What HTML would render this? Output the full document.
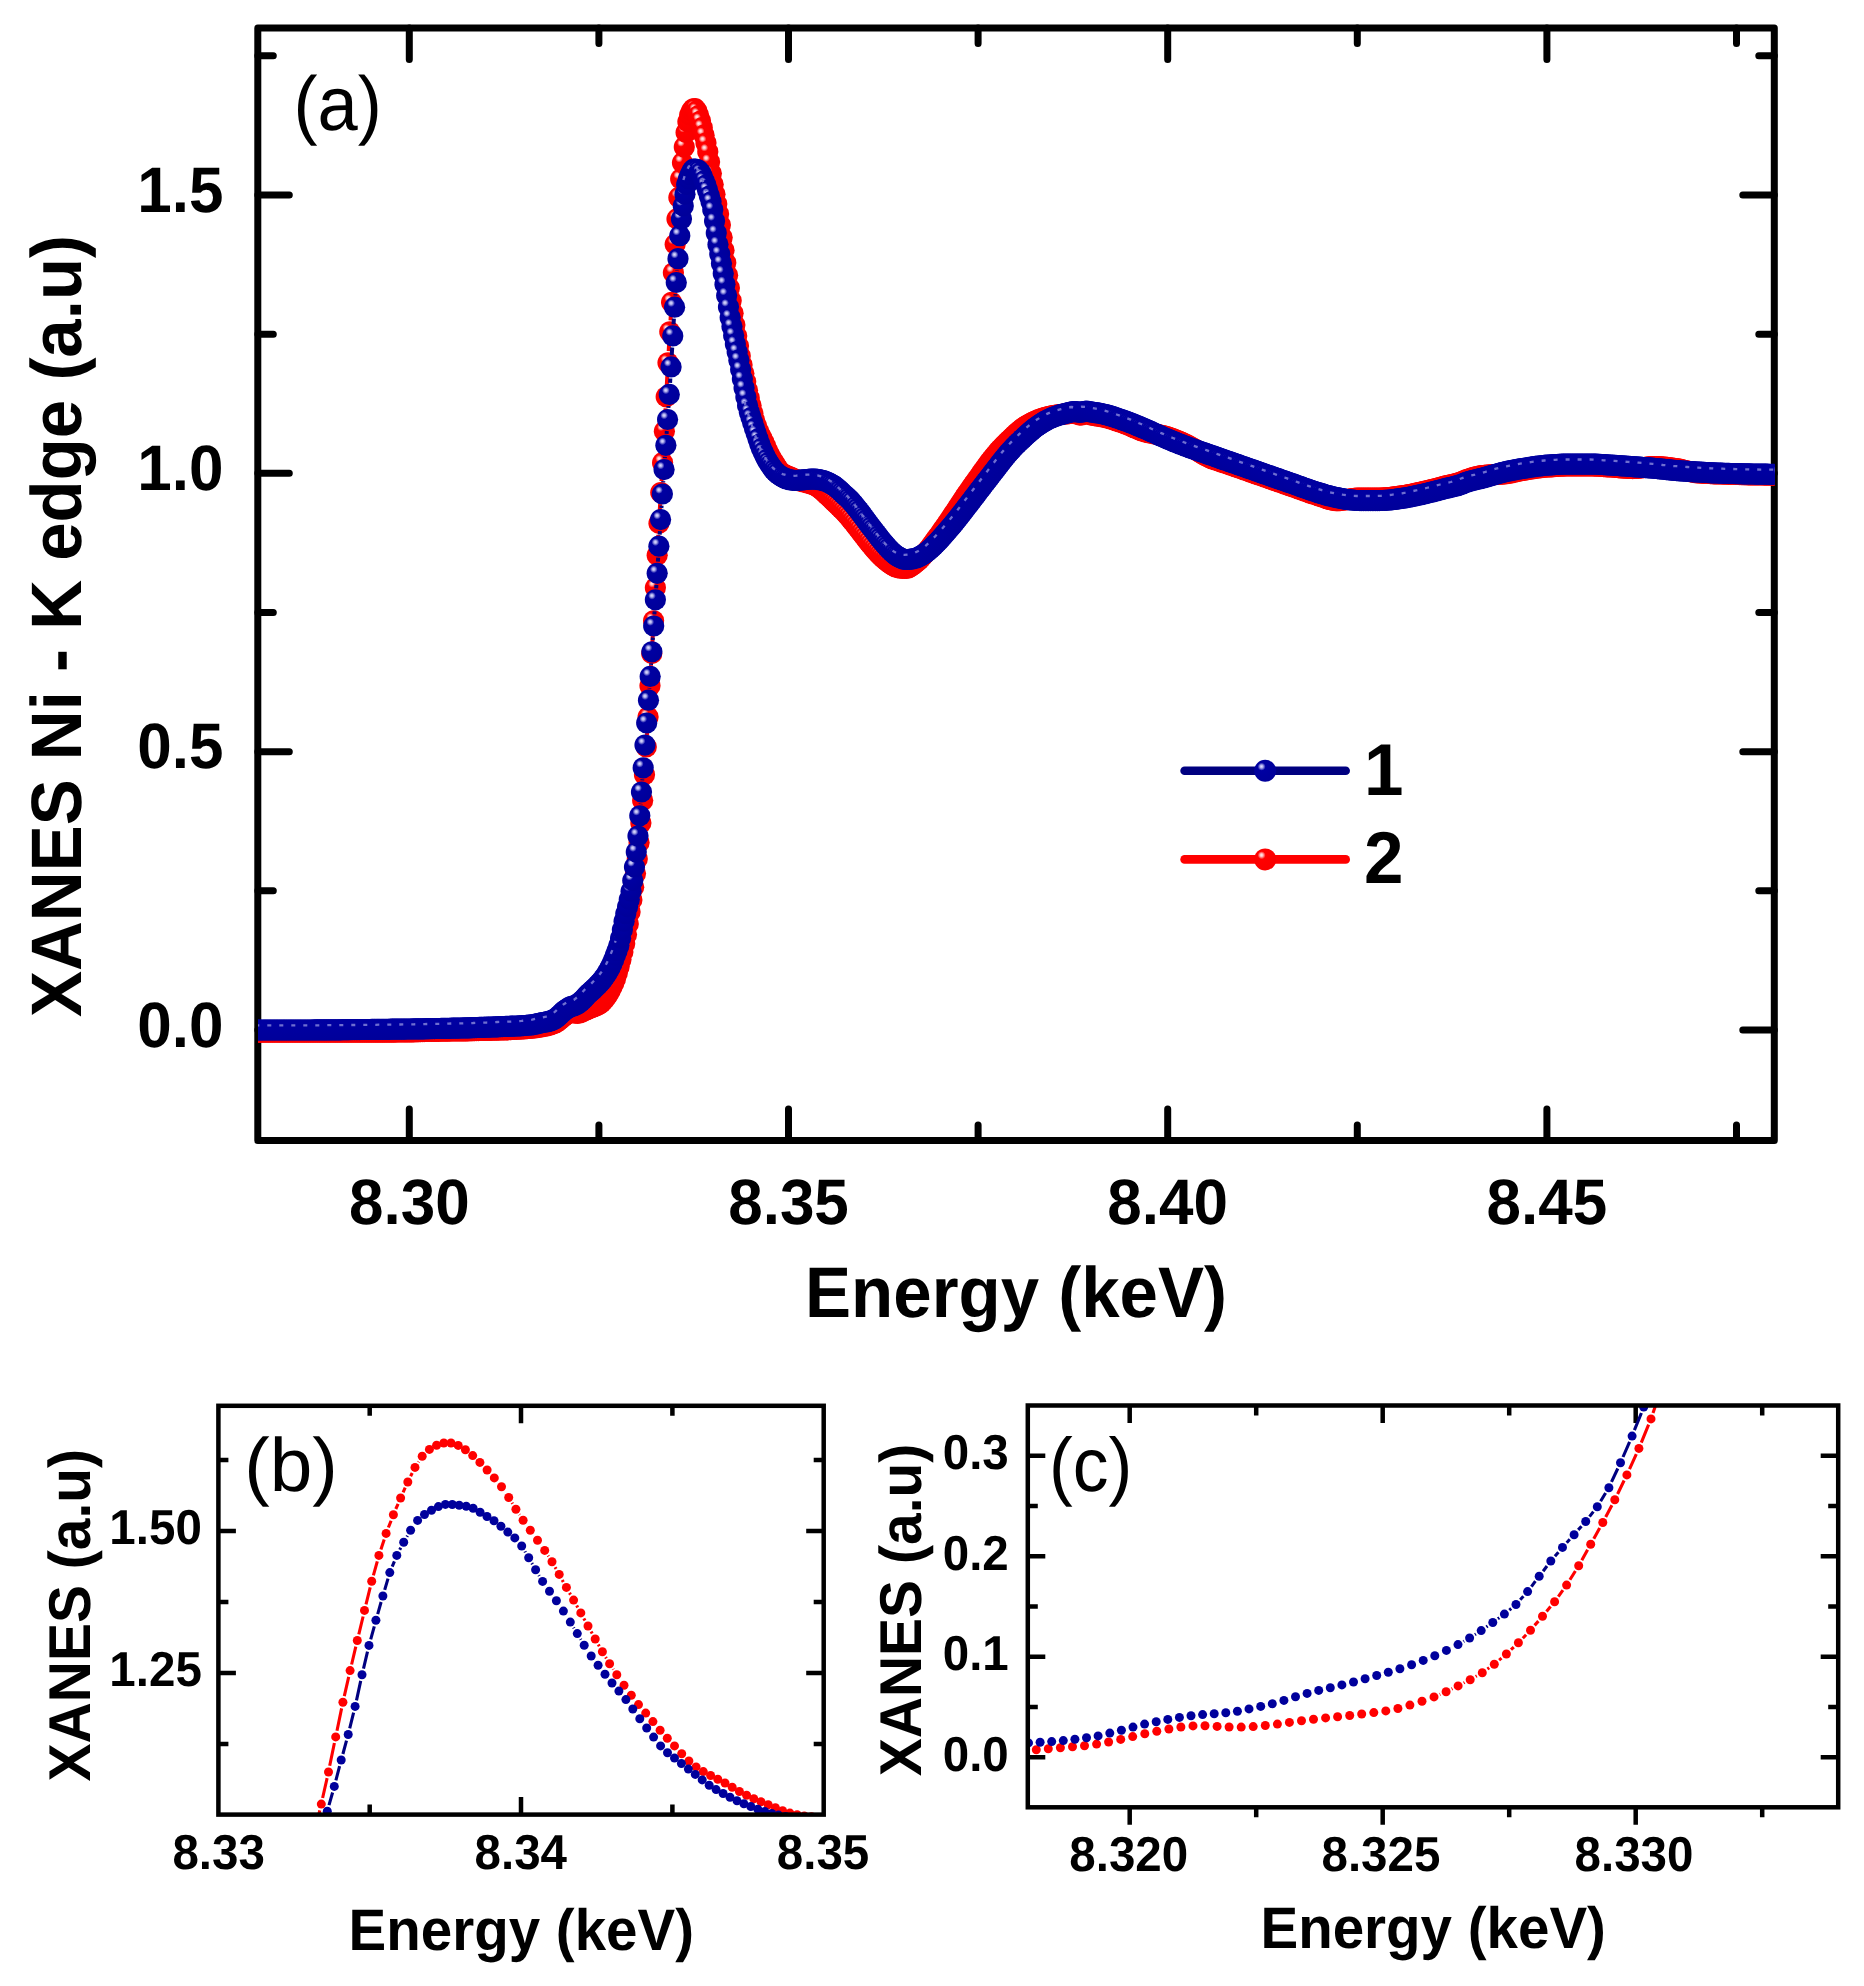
<!DOCTYPE html>
<html lang="en"><head><meta charset="utf-8"><title>XANES Ni K-edge</title>
<style>html,body{margin:0;padding:0;background:#fff}svg{display:block}text{font-family:"Liberation Sans",sans-serif;font-weight:bold;fill:#000;font-kerning:none;text-rendering:geometricPrecision}.pl{font-weight:normal}</style></head><body>
<svg width="1864" height="1986" viewBox="0 0 1864 1986">
<defs><radialGradient id="gb" cx="0.36" cy="0.34" r="0.62" fx="0.33" fy="0.30"><stop offset="0" stop-color="#e0e0ff"/><stop offset="0.11" stop-color="#b0b0ec"/><stop offset="0.29" stop-color="#0000a2"/><stop offset="1" stop-color="#00009a"/></radialGradient><radialGradient id="gr" cx="0.36" cy="0.34" r="0.62" fx="0.33" fy="0.30"><stop offset="0" stop-color="#fff0f0"/><stop offset="0.11" stop-color="#ffc0c0"/><stop offset="0.29" stop-color="#ff0000"/><stop offset="1" stop-color="#fa0000"/></radialGradient><clipPath id="ca"><rect x="258" y="28" width="1516.5" height="1112.5"/></clipPath><clipPath id="cb"><rect x="218.4" y="1405.8" width="605.3" height="408.8"/></clipPath><clipPath id="cc"><rect x="1027.8" y="1405.5" width="810.4" height="402"/></clipPath></defs>
<rect width="1864" height="1986" fill="#fff"/>
<rect x="257.8" y="28.0" width="1516.5" height="1112.5" stroke="#000" stroke-width="7" fill="none" stroke-linejoin="round"/>
<path d="M409.3 1140.5v-31.5M409.3 28.0v31.5M788.5 1140.5v-31.5M788.5 28.0v31.5M1167.7 1140.5v-31.5M1167.7 28.0v31.5M1546.9 1140.5v-31.5M1546.9 28.0v31.5M598.9 1140.5v-15.5M598.9 28.0v15.5M978.1 1140.5v-15.5M978.1 28.0v15.5M1357.3 1140.5v-15.5M1357.3 28.0v15.5M1736.5 1140.5v-15.5M1736.5 28.0v15.5M257.8 1030h31.5M1774.3 1030h-31.5M257.8 751.7h31.5M1774.3 751.7h-31.5M257.8 473.3h31.5M1774.3 473.3h-31.5M257.8 195h31.5M1774.3 195h-31.5M257.8 890.8h15.5M1774.3 890.8h-15.5M257.8 612.5h15.5M1774.3 612.5h-15.5M257.8 334.2h15.5M1774.3 334.2h-15.5M257.8 55.8h15.5M1774.3 55.8h-15.5" stroke="#000" stroke-width="7" fill="none" stroke-linecap="round"/>
<g clip-path="url(#ca)">
<path d="M643.5 788.8L643.7 786.4M645.3 763.2L645.6 758.4M647 735.3L647.4 728.7M648.8 705.5L649.3 697.4M650.6 674.3L651.1 665.2M652.4 642L652.9 632.4M654.2 609.2L654.7 599.4M656 576.3L656.5 566.8M657.8 543.6L658.3 534.9M659.7 511.8L660.1 504.2M661.5 481L661.9 474.3M663.3 451.1L663.7 442.8M665 419.6L665.6 408.3M666.8 385.2L667.4 374.4M668.7 351.2L669.1 343.4M670.5 320.3L670.9 313.9M672.3 290.8L672.7 284.4M674.2 261.2L674.5 255.9M676.1 232.7L676.2 230.5" stroke="#f00" stroke-width="4" fill="none"/><g fill="url(#gr)"><circle cx="239.9" cy="1032.2" r="10.6"/><circle cx="241.7" cy="1032.2" r="10.6"/><circle cx="243.5" cy="1032.2" r="10.6"/><circle cx="245.3" cy="1032.2" r="10.6"/><circle cx="247.1" cy="1032.2" r="10.6"/><circle cx="248.9" cy="1032.2" r="10.6"/><circle cx="250.7" cy="1032.2" r="10.6"/><circle cx="252.5" cy="1032.2" r="10.6"/><circle cx="254.3" cy="1032.2" r="10.6"/><circle cx="256.1" cy="1032.2" r="10.6"/><circle cx="257.9" cy="1032.2" r="10.6"/><circle cx="259.7" cy="1032.2" r="10.6"/><circle cx="261.6" cy="1032.2" r="10.6"/><circle cx="263.4" cy="1032.2" r="10.6"/><circle cx="265.2" cy="1032.2" r="10.6"/><circle cx="267" cy="1032.2" r="10.6"/><circle cx="268.8" cy="1032.2" r="10.6"/><circle cx="270.6" cy="1032.2" r="10.6"/><circle cx="272.4" cy="1032.2" r="10.6"/><circle cx="274.2" cy="1032.2" r="10.6"/><circle cx="276" cy="1032.2" r="10.6"/><circle cx="277.8" cy="1032.2" r="10.6"/><circle cx="279.6" cy="1032.2" r="10.6"/><circle cx="281.4" cy="1032.2" r="10.6"/><circle cx="283.2" cy="1032.2" r="10.6"/><circle cx="285" cy="1032.2" r="10.6"/><circle cx="286.8" cy="1032.2" r="10.6"/><circle cx="288.6" cy="1032.2" r="10.6"/><circle cx="290.5" cy="1032.2" r="10.6"/><circle cx="292.3" cy="1032.2" r="10.6"/><circle cx="294.1" cy="1032.2" r="10.6"/><circle cx="295.9" cy="1032.2" r="10.6"/><circle cx="297.7" cy="1032.2" r="10.6"/><circle cx="299.5" cy="1032.2" r="10.6"/><circle cx="301.3" cy="1032.2" r="10.6"/><circle cx="303.1" cy="1032.2" r="10.6"/><circle cx="304.9" cy="1032.2" r="10.6"/><circle cx="306.7" cy="1032.2" r="10.6"/><circle cx="308.5" cy="1032.2" r="10.6"/><circle cx="310.3" cy="1032.2" r="10.6"/><circle cx="312.1" cy="1032.2" r="10.6"/><circle cx="313.9" cy="1032.2" r="10.6"/><circle cx="315.7" cy="1032.2" r="10.6"/><circle cx="317.6" cy="1032.2" r="10.6"/><circle cx="319.4" cy="1032.2" r="10.6"/><circle cx="321.2" cy="1032.2" r="10.6"/><circle cx="323" cy="1032.2" r="10.6"/><circle cx="324.8" cy="1032.2" r="10.6"/><circle cx="326.6" cy="1032.2" r="10.6"/><circle cx="328.4" cy="1032.2" r="10.6"/><circle cx="330.2" cy="1032.2" r="10.6"/><circle cx="332" cy="1032.2" r="10.6"/><circle cx="333.8" cy="1032.2" r="10.6"/><circle cx="335.6" cy="1032.2" r="10.6"/><circle cx="337.4" cy="1032.2" r="10.6"/><circle cx="339.2" cy="1032.2" r="10.6"/><circle cx="341" cy="1032.2" r="10.6"/><circle cx="342.8" cy="1032.2" r="10.6"/><circle cx="344.7" cy="1032.2" r="10.6"/><circle cx="346.5" cy="1032.2" r="10.6"/><circle cx="348.3" cy="1032.2" r="10.6"/><circle cx="350.1" cy="1032.2" r="10.6"/><circle cx="351.9" cy="1032.2" r="10.6"/><circle cx="353.7" cy="1032.2" r="10.6"/><circle cx="355.5" cy="1032.2" r="10.6"/><circle cx="357.3" cy="1032.2" r="10.6"/><circle cx="359.1" cy="1032.2" r="10.6"/><circle cx="360.9" cy="1032.2" r="10.6"/><circle cx="362.7" cy="1032.2" r="10.6"/><circle cx="364.5" cy="1032.2" r="10.6"/><circle cx="366.3" cy="1032.2" r="10.6"/><circle cx="368.1" cy="1032.2" r="10.6"/><circle cx="369.9" cy="1032.2" r="10.6"/><circle cx="371.7" cy="1032.2" r="10.6"/><circle cx="373.6" cy="1032.2" r="10.6"/><circle cx="375.4" cy="1032.2" r="10.6"/><circle cx="377.2" cy="1032.2" r="10.6"/><circle cx="379" cy="1032.2" r="10.6"/><circle cx="380.8" cy="1032.2" r="10.6"/><circle cx="382.6" cy="1032.2" r="10.6"/><circle cx="384.4" cy="1032.2" r="10.6"/><circle cx="386.2" cy="1032.2" r="10.6"/><circle cx="388" cy="1032.1" r="10.6"/><circle cx="389.8" cy="1032.1" r="10.6"/><circle cx="391.6" cy="1032.1" r="10.6"/><circle cx="393.4" cy="1032.1" r="10.6"/><circle cx="395.2" cy="1032.1" r="10.6"/><circle cx="397" cy="1032" r="10.6"/><circle cx="398.8" cy="1032" r="10.6"/><circle cx="400.7" cy="1032" r="10.6"/><circle cx="402.5" cy="1031.9" r="10.6"/><circle cx="404.3" cy="1031.9" r="10.6"/><circle cx="406.1" cy="1031.9" r="10.6"/><circle cx="407.9" cy="1031.9" r="10.6"/><circle cx="409.7" cy="1031.8" r="10.6"/><circle cx="411.5" cy="1031.8" r="10.6"/><circle cx="413.3" cy="1031.8" r="10.6"/><circle cx="415.1" cy="1031.7" r="10.6"/><circle cx="416.9" cy="1031.7" r="10.6"/><circle cx="418.7" cy="1031.7" r="10.6"/><circle cx="420.5" cy="1031.6" r="10.6"/><circle cx="422.3" cy="1031.6" r="10.6"/><circle cx="424.1" cy="1031.6" r="10.6"/><circle cx="425.9" cy="1031.5" r="10.6"/><circle cx="427.8" cy="1031.5" r="10.6"/><circle cx="429.6" cy="1031.4" r="10.6"/><circle cx="431.4" cy="1031.4" r="10.6"/><circle cx="433.2" cy="1031.4" r="10.6"/><circle cx="435" cy="1031.3" r="10.6"/><circle cx="436.8" cy="1031.3" r="10.6"/><circle cx="438.6" cy="1031.3" r="10.6"/><circle cx="440.4" cy="1031.2" r="10.6"/><circle cx="442.2" cy="1031.2" r="10.6"/><circle cx="444" cy="1031.2" r="10.6"/><circle cx="445.8" cy="1031.1" r="10.6"/><circle cx="447.6" cy="1031.1" r="10.6"/><circle cx="449.4" cy="1031.1" r="10.6"/><circle cx="451.2" cy="1031" r="10.6"/><circle cx="453" cy="1031" r="10.6"/><circle cx="454.8" cy="1031" r="10.6"/><circle cx="456.7" cy="1031" r="10.6"/><circle cx="458.5" cy="1030.9" r="10.6"/><circle cx="460.3" cy="1030.9" r="10.6"/><circle cx="462.1" cy="1030.9" r="10.6"/><circle cx="463.9" cy="1030.8" r="10.6"/><circle cx="465.7" cy="1030.8" r="10.6"/><circle cx="467.5" cy="1030.8" r="10.6"/><circle cx="469.3" cy="1030.7" r="10.6"/><circle cx="471.1" cy="1030.7" r="10.6"/><circle cx="472.9" cy="1030.7" r="10.6"/><circle cx="474.7" cy="1030.6" r="10.6"/><circle cx="476.5" cy="1030.6" r="10.6"/><circle cx="478.3" cy="1030.6" r="10.6"/><circle cx="480.1" cy="1030.5" r="10.6"/><circle cx="481.9" cy="1030.5" r="10.6"/><circle cx="483.8" cy="1030.4" r="10.6"/><circle cx="485.6" cy="1030.4" r="10.6"/><circle cx="487.4" cy="1030.4" r="10.6"/><circle cx="489.2" cy="1030.3" r="10.6"/><circle cx="491" cy="1030.3" r="10.6"/><circle cx="492.8" cy="1030.2" r="10.6"/><circle cx="494.6" cy="1030.2" r="10.6"/><circle cx="496.4" cy="1030.1" r="10.6"/><circle cx="498.2" cy="1030.1" r="10.6"/><circle cx="500" cy="1030" r="10.6"/><circle cx="501.8" cy="1029.9" r="10.6"/><circle cx="503.6" cy="1029.9" r="10.6"/><circle cx="505.4" cy="1029.8" r="10.6"/><circle cx="507.2" cy="1029.8" r="10.6"/><circle cx="509" cy="1029.7" r="10.6"/><circle cx="510.8" cy="1029.6" r="10.6"/><circle cx="512.7" cy="1029.5" r="10.6"/><circle cx="514.5" cy="1029.4" r="10.6"/><circle cx="516.3" cy="1029.3" r="10.6"/><circle cx="518.1" cy="1029.2" r="10.6"/><circle cx="519.9" cy="1029.1" r="10.6"/><circle cx="521.7" cy="1029" r="10.6"/><circle cx="523.5" cy="1028.9" r="10.6"/><circle cx="525.3" cy="1028.7" r="10.6"/><circle cx="527.1" cy="1028.6" r="10.6"/><circle cx="528.9" cy="1028.5" r="10.6"/><circle cx="530.7" cy="1028.3" r="10.6"/><circle cx="532.5" cy="1028.1" r="10.6"/><circle cx="534.3" cy="1027.9" r="10.6"/><circle cx="536.1" cy="1027.7" r="10.6"/><circle cx="537.9" cy="1027.4" r="10.6"/><circle cx="539.8" cy="1027.1" r="10.6"/><circle cx="541.6" cy="1026.8" r="10.6"/><circle cx="543.4" cy="1026.5" r="10.6"/><circle cx="545.2" cy="1026.1" r="10.6"/><circle cx="547" cy="1025.8" r="10.6"/><circle cx="548.8" cy="1025.3" r="10.6"/><circle cx="550.6" cy="1024.8" r="10.6"/><circle cx="552.4" cy="1024.2" r="10.6"/><circle cx="554.2" cy="1023.6" r="10.6"/><circle cx="556" cy="1022.7" r="10.6"/><circle cx="557.8" cy="1021.5" r="10.6"/><circle cx="559.6" cy="1020.1" r="10.6"/><circle cx="561.4" cy="1018.5" r="10.6"/><circle cx="563.2" cy="1017" r="10.6"/><circle cx="565" cy="1015.6" r="10.6"/><circle cx="566.9" cy="1014.3" r="10.6"/><circle cx="568.7" cy="1013.2" r="10.6"/><circle cx="570.5" cy="1012.6" r="10.6"/><circle cx="572.3" cy="1012.5" r="10.6"/><circle cx="574.1" cy="1012.9" r="10.6"/><circle cx="575.9" cy="1013.2" r="10.6"/><circle cx="577.7" cy="1013.3" r="10.6"/><circle cx="579.5" cy="1013" r="10.6"/><circle cx="581.3" cy="1012.4" r="10.6"/><circle cx="583.1" cy="1011.6" r="10.6"/><circle cx="584.9" cy="1010.6" r="10.6"/><circle cx="586.7" cy="1009.7" r="10.6"/><circle cx="588.5" cy="1008.9" r="10.6"/><circle cx="590.3" cy="1008.2" r="10.6"/><circle cx="592.1" cy="1007.5" r="10.6"/><circle cx="593.9" cy="1006.8" r="10.6"/><circle cx="595.8" cy="1006" r="10.6"/><circle cx="597.6" cy="1005.3" r="10.6"/><circle cx="599.4" cy="1004.3" r="10.6"/><circle cx="601.2" cy="1003" r="10.6"/><circle cx="603" cy="1001.1" r="10.6"/><circle cx="604.8" cy="999" r="10.6"/><circle cx="606.6" cy="996.6" r="10.6"/><circle cx="608.4" cy="993.7" r="10.6"/><circle cx="610.2" cy="990.4" r="10.6"/><circle cx="612" cy="987" r="10.6"/><circle cx="613.8" cy="983.2" r="10.6"/><circle cx="615.6" cy="978.4" r="10.6"/><circle cx="617.4" cy="972.8" r="10.6"/><circle cx="619.2" cy="966.5" r="10.6"/><circle cx="621" cy="959.6" r="10.6"/><circle cx="622.9" cy="951.9" r="10.6"/><circle cx="624.7" cy="943.8" r="10.6"/><circle cx="626.5" cy="934.6" r="10.6"/><circle cx="628.3" cy="923.9" r="10.6"/><circle cx="630.1" cy="912" r="10.6"/><circle cx="631.9" cy="900" r="10.6"/><circle cx="633.7" cy="887.3" r="10.6"/><circle cx="635.5" cy="873.6" r="10.6"/><circle cx="637.3" cy="858.9" r="10.6"/><circle cx="639.1" cy="842.5" r="10.6"/><circle cx="640.9" cy="823.1" r="10.6"/><circle cx="642.7" cy="800.4" r="10.6"/><circle cx="644.5" cy="774.8" r="10.6"/><circle cx="646.3" cy="746.9" r="10.6"/><circle cx="648.1" cy="717.1" r="10.6"/><circle cx="650" cy="685.8" r="10.6"/><circle cx="651.8" cy="653.6" r="10.6"/><circle cx="653.6" cy="620.8" r="10.6"/><circle cx="655.4" cy="587.8" r="10.6"/><circle cx="657.2" cy="555.2" r="10.6"/><circle cx="659" cy="523.3" r="10.6"/><circle cx="660.8" cy="492.6" r="10.6"/><circle cx="662.6" cy="462.7" r="10.6"/><circle cx="664.4" cy="431.2" r="10.6"/><circle cx="666.2" cy="396.8" r="10.6"/><circle cx="668" cy="362.8" r="10.6"/><circle cx="669.8" cy="331.8" r="10.6"/><circle cx="671.6" cy="302.3" r="10.6"/><circle cx="673.4" cy="272.8" r="10.6"/><circle cx="675.2" cy="244.3" r="10.6"/><circle cx="677" cy="218.9" r="10.6"/><circle cx="678.9" cy="197.4" r="10.6"/><circle cx="680.7" cy="179.1" r="10.6"/><circle cx="682.5" cy="162.7" r="10.6"/><circle cx="684.3" cy="146.9" r="10.6"/><circle cx="686.1" cy="132.6" r="10.6"/><circle cx="687.9" cy="121.8" r="10.6"/><circle cx="689.7" cy="115" r="10.6"/><circle cx="691.5" cy="110.9" r="10.6"/><circle cx="693.3" cy="108.8" r="10.6"/><circle cx="695.1" cy="108.7" r="10.6"/><circle cx="696.9" cy="111.1" r="10.6"/><circle cx="698.7" cy="115.5" r="10.6"/><circle cx="700.5" cy="121.1" r="10.6"/><circle cx="702.3" cy="127.7" r="10.6"/><circle cx="704.1" cy="135.2" r="10.6"/><circle cx="706" cy="143" r="10.6"/><circle cx="707.8" cy="151.7" r="10.6"/><circle cx="709.6" cy="162.1" r="10.6"/><circle cx="711.4" cy="173.6" r="10.6"/><circle cx="713.2" cy="184.4" r="10.6"/><circle cx="715" cy="194.3" r="10.6"/><circle cx="716.8" cy="204" r="10.6"/><circle cx="718.6" cy="214" r="10.6"/><circle cx="720.4" cy="225.1" r="10.6"/><circle cx="722.2" cy="237.5" r="10.6"/><circle cx="724" cy="250.2" r="10.6"/><circle cx="725.8" cy="262.7" r="10.6"/><circle cx="727.6" cy="275.2" r="10.6"/><circle cx="729.4" cy="288.1" r="10.6"/><circle cx="731.2" cy="300.8" r="10.6"/><circle cx="733.1" cy="313.3" r="10.6"/><circle cx="734.9" cy="325.1" r="10.6"/><circle cx="736.7" cy="335.9" r="10.6"/><circle cx="738.5" cy="346.1" r="10.6"/><circle cx="740.3" cy="356" r="10.6"/><circle cx="742.1" cy="365.1" r="10.6"/><circle cx="743.9" cy="373.5" r="10.6"/><circle cx="745.7" cy="381.8" r="10.6"/><circle cx="747.5" cy="390.2" r="10.6"/><circle cx="749.3" cy="398.1" r="10.6"/><circle cx="751.1" cy="405.6" r="10.6"/><circle cx="752.9" cy="413.2" r="10.6"/><circle cx="754.7" cy="420.4" r="10.6"/><circle cx="756.5" cy="426.1" r="10.6"/><circle cx="758.3" cy="430.8" r="10.6"/><circle cx="760.1" cy="434.7" r="10.6"/><circle cx="762" cy="438.2" r="10.6"/><circle cx="763.8" cy="442" r="10.6"/><circle cx="765.6" cy="446.1" r="10.6"/><circle cx="767.4" cy="450.3" r="10.6"/><circle cx="769.2" cy="454" r="10.6"/><circle cx="771" cy="457.4" r="10.6"/><circle cx="772.8" cy="460.4" r="10.6"/><circle cx="774.6" cy="463.3" r="10.6"/><circle cx="776.4" cy="466.3" r="10.6"/><circle cx="778.2" cy="469.1" r="10.6"/><circle cx="780" cy="471.5" r="10.6"/><circle cx="781.8" cy="473.2" r="10.6"/><circle cx="783.6" cy="474.2" r="10.6"/><circle cx="785.4" cy="475.1" r="10.6"/><circle cx="787.2" cy="475.8" r="10.6"/><circle cx="789.1" cy="476.6" r="10.6"/><circle cx="790.9" cy="477.4" r="10.6"/><circle cx="792.7" cy="478.2" r="10.6"/><circle cx="794.5" cy="479" r="10.6"/><circle cx="796.3" cy="479.7" r="10.6"/><circle cx="798.1" cy="480.3" r="10.6"/><circle cx="799.9" cy="480.9" r="10.6"/><circle cx="801.7" cy="481.4" r="10.6"/><circle cx="803.5" cy="481.9" r="10.6"/><circle cx="805.3" cy="482.3" r="10.6"/><circle cx="807.1" cy="482.8" r="10.6"/><circle cx="808.9" cy="483.3" r="10.6"/><circle cx="810.7" cy="483.8" r="10.6"/><circle cx="812.5" cy="484.4" r="10.6"/><circle cx="814.3" cy="485.2" r="10.6"/><circle cx="816.1" cy="486.1" r="10.6"/><circle cx="818" cy="487.3" r="10.6"/><circle cx="819.8" cy="488.6" r="10.6"/><circle cx="821.6" cy="490" r="10.6"/><circle cx="823.4" cy="491.5" r="10.6"/><circle cx="825.2" cy="493.2" r="10.6"/><circle cx="827" cy="494.9" r="10.6"/><circle cx="828.8" cy="496.6" r="10.6"/><circle cx="830.6" cy="498.3" r="10.6"/><circle cx="832.4" cy="500.1" r="10.6"/><circle cx="834.2" cy="501.8" r="10.6"/><circle cx="836" cy="503.5" r="10.6"/><circle cx="837.8" cy="505.2" r="10.6"/><circle cx="839.6" cy="506.9" r="10.6"/><circle cx="841.4" cy="508.7" r="10.6"/><circle cx="843.2" cy="510.6" r="10.6"/><circle cx="845.1" cy="512.5" r="10.6"/><circle cx="846.9" cy="514.5" r="10.6"/><circle cx="848.7" cy="516.6" r="10.6"/><circle cx="850.5" cy="518.7" r="10.6"/><circle cx="852.3" cy="520.9" r="10.6"/><circle cx="854.1" cy="523.1" r="10.6"/><circle cx="855.9" cy="525.4" r="10.6"/><circle cx="857.7" cy="527.7" r="10.6"/><circle cx="859.5" cy="530" r="10.6"/><circle cx="861.3" cy="532.4" r="10.6"/><circle cx="863.1" cy="534.7" r="10.6"/><circle cx="864.9" cy="537.1" r="10.6"/><circle cx="866.7" cy="539.4" r="10.6"/><circle cx="868.5" cy="541.7" r="10.6"/><circle cx="870.3" cy="544" r="10.6"/><circle cx="872.2" cy="546.2" r="10.6"/><circle cx="874" cy="548.4" r="10.6"/><circle cx="875.8" cy="550.5" r="10.6"/><circle cx="877.6" cy="552.5" r="10.6"/><circle cx="879.4" cy="554.4" r="10.6"/><circle cx="881.2" cy="556.2" r="10.6"/><circle cx="883" cy="557.9" r="10.6"/><circle cx="884.8" cy="559.5" r="10.6"/><circle cx="886.6" cy="561.1" r="10.6"/><circle cx="888.4" cy="562.4" r="10.6"/><circle cx="890.2" cy="563.8" r="10.6"/><circle cx="892" cy="565" r="10.6"/><circle cx="893.8" cy="566.1" r="10.6"/><circle cx="895.6" cy="567" r="10.6"/><circle cx="897.4" cy="567.6" r="10.6"/><circle cx="899.2" cy="568" r="10.6"/><circle cx="901.1" cy="568.2" r="10.6"/><circle cx="902.9" cy="568.4" r="10.6"/><circle cx="904.7" cy="568.5" r="10.6"/><circle cx="906.5" cy="568.4" r="10.6"/><circle cx="908.3" cy="567.9" r="10.6"/><circle cx="910.1" cy="567" r="10.6"/><circle cx="911.9" cy="565.8" r="10.6"/><circle cx="913.7" cy="564.5" r="10.6"/><circle cx="915.5" cy="563.1" r="10.6"/><circle cx="917.3" cy="561.6" r="10.6"/><circle cx="919.1" cy="559.9" r="10.6"/><circle cx="920.9" cy="558" r="10.6"/><circle cx="922.7" cy="556" r="10.6"/><circle cx="924.5" cy="554" r="10.6"/><circle cx="926.3" cy="551.9" r="10.6"/><circle cx="928.2" cy="549.7" r="10.6"/><circle cx="930" cy="547.4" r="10.6"/><circle cx="931.8" cy="545" r="10.6"/><circle cx="933.6" cy="542.5" r="10.6"/><circle cx="935.4" cy="540.1" r="10.6"/><circle cx="937.2" cy="537.6" r="10.6"/><circle cx="939" cy="535.2" r="10.6"/><circle cx="940.8" cy="532.7" r="10.6"/><circle cx="942.6" cy="530.1" r="10.6"/><circle cx="944.4" cy="527.6" r="10.6"/><circle cx="946.2" cy="525" r="10.6"/><circle cx="948" cy="522.3" r="10.6"/><circle cx="949.8" cy="519.7" r="10.6"/><circle cx="951.6" cy="516.9" r="10.6"/><circle cx="953.4" cy="514.2" r="10.6"/><circle cx="955.3" cy="511.5" r="10.6"/><circle cx="957.1" cy="508.8" r="10.6"/><circle cx="958.9" cy="506" r="10.6"/><circle cx="960.7" cy="503.3" r="10.6"/><circle cx="962.5" cy="500.6" r="10.6"/><circle cx="964.3" cy="497.8" r="10.6"/><circle cx="966.1" cy="495.1" r="10.6"/><circle cx="967.9" cy="492.5" r="10.6"/><circle cx="969.7" cy="489.9" r="10.6"/><circle cx="971.5" cy="487.3" r="10.6"/><circle cx="973.3" cy="484.8" r="10.6"/><circle cx="975.1" cy="482.3" r="10.6"/><circle cx="976.9" cy="479.8" r="10.6"/><circle cx="978.7" cy="477.3" r="10.6"/><circle cx="980.5" cy="474.7" r="10.6"/><circle cx="982.3" cy="472.1" r="10.6"/><circle cx="984.2" cy="469.6" r="10.6"/><circle cx="986" cy="467" r="10.6"/><circle cx="987.8" cy="464.5" r="10.6"/><circle cx="989.6" cy="462.1" r="10.6"/><circle cx="991.4" cy="459.8" r="10.6"/><circle cx="993.2" cy="457.5" r="10.6"/><circle cx="995" cy="455.3" r="10.6"/><circle cx="996.8" cy="453.2" r="10.6"/><circle cx="998.6" cy="451.1" r="10.6"/><circle cx="1000.4" cy="449.1" r="10.6"/><circle cx="1002.2" cy="447.2" r="10.6"/><circle cx="1004" cy="445.3" r="10.6"/><circle cx="1005.8" cy="443.5" r="10.6"/><circle cx="1007.6" cy="441.7" r="10.6"/><circle cx="1009.4" cy="440" r="10.6"/><circle cx="1011.3" cy="438.2" r="10.6"/><circle cx="1013.1" cy="436.5" r="10.6"/><circle cx="1014.9" cy="434.8" r="10.6"/><circle cx="1016.7" cy="433.1" r="10.6"/><circle cx="1018.5" cy="431.5" r="10.6"/><circle cx="1020.3" cy="430" r="10.6"/><circle cx="1022.1" cy="428.6" r="10.6"/><circle cx="1023.9" cy="427.3" r="10.6"/><circle cx="1025.7" cy="426.1" r="10.6"/><circle cx="1027.5" cy="425" r="10.6"/><circle cx="1029.3" cy="424" r="10.6"/><circle cx="1031.1" cy="423" r="10.6"/><circle cx="1032.9" cy="422.1" r="10.6"/><circle cx="1034.7" cy="421.3" r="10.6"/><circle cx="1036.5" cy="420.5" r="10.6"/><circle cx="1038.4" cy="419.7" r="10.6"/><circle cx="1040.2" cy="419" r="10.6"/><circle cx="1042" cy="418.4" r="10.6"/><circle cx="1043.8" cy="417.8" r="10.6"/><circle cx="1045.6" cy="417.3" r="10.6"/><circle cx="1047.4" cy="416.8" r="10.6"/><circle cx="1049.2" cy="416.4" r="10.6"/><circle cx="1051" cy="416" r="10.6"/><circle cx="1052.8" cy="415.6" r="10.6"/><circle cx="1054.6" cy="415.3" r="10.6"/><circle cx="1056.4" cy="415" r="10.6"/><circle cx="1058.2" cy="414.8" r="10.6"/><circle cx="1060" cy="414.6" r="10.6"/><circle cx="1061.8" cy="414.4" r="10.6"/><circle cx="1063.6" cy="414.2" r="10.6"/><circle cx="1065.4" cy="414" r="10.6"/><circle cx="1067.3" cy="413.8" r="10.6"/><circle cx="1069.1" cy="413.6" r="10.6"/><circle cx="1070.9" cy="413.5" r="10.6"/><circle cx="1072.7" cy="413.3" r="10.6"/><circle cx="1074.5" cy="413.4" r="10.6"/><circle cx="1076.3" cy="413.8" r="10.6"/><circle cx="1078.1" cy="414.5" r="10.6"/><circle cx="1079.9" cy="415.1" r="10.6"/><circle cx="1081.7" cy="414.9" r="10.6"/><circle cx="1083.5" cy="414.2" r="10.6"/><circle cx="1085.3" cy="413.7" r="10.6"/><circle cx="1087.1" cy="413.7" r="10.6"/><circle cx="1088.9" cy="414.2" r="10.6"/><circle cx="1090.7" cy="414.8" r="10.6"/><circle cx="1092.5" cy="415.3" r="10.6"/><circle cx="1094.4" cy="415.6" r="10.6"/><circle cx="1096.2" cy="415.8" r="10.6"/><circle cx="1098" cy="416.1" r="10.6"/><circle cx="1099.8" cy="416.4" r="10.6"/><circle cx="1101.6" cy="416.7" r="10.6"/><circle cx="1103.4" cy="417.1" r="10.6"/><circle cx="1105.2" cy="417.5" r="10.6"/><circle cx="1107" cy="418" r="10.6"/><circle cx="1108.8" cy="418.5" r="10.6"/><circle cx="1110.6" cy="419" r="10.6"/><circle cx="1112.4" cy="419.6" r="10.6"/><circle cx="1114.2" cy="420.2" r="10.6"/><circle cx="1116" cy="420.7" r="10.6"/><circle cx="1117.8" cy="421.4" r="10.6"/><circle cx="1119.6" cy="422" r="10.6"/><circle cx="1121.4" cy="422.6" r="10.6"/><circle cx="1123.3" cy="423.2" r="10.6"/><circle cx="1125.1" cy="423.9" r="10.6"/><circle cx="1126.9" cy="424.6" r="10.6"/><circle cx="1128.7" cy="425.4" r="10.6"/><circle cx="1130.5" cy="426.1" r="10.6"/><circle cx="1132.3" cy="426.9" r="10.6"/><circle cx="1134.1" cy="427.7" r="10.6"/><circle cx="1135.9" cy="428.5" r="10.6"/><circle cx="1137.7" cy="429.3" r="10.6"/><circle cx="1139.5" cy="430" r="10.6"/><circle cx="1141.3" cy="430.7" r="10.6"/><circle cx="1143.1" cy="431.3" r="10.6"/><circle cx="1144.9" cy="431.8" r="10.6"/><circle cx="1146.7" cy="432.3" r="10.6"/><circle cx="1148.5" cy="432.7" r="10.6"/><circle cx="1150.4" cy="433.1" r="10.6"/><circle cx="1152.2" cy="433.5" r="10.6"/><circle cx="1154" cy="433.8" r="10.6"/><circle cx="1155.8" cy="434.2" r="10.6"/><circle cx="1157.6" cy="434.5" r="10.6"/><circle cx="1159.4" cy="434.9" r="10.6"/><circle cx="1161.2" cy="435.3" r="10.6"/><circle cx="1163" cy="435.7" r="10.6"/><circle cx="1164.8" cy="436.1" r="10.6"/><circle cx="1166.6" cy="436.6" r="10.6"/><circle cx="1168.4" cy="437.2" r="10.6"/><circle cx="1170.2" cy="437.8" r="10.6"/><circle cx="1172" cy="438.4" r="10.6"/><circle cx="1173.8" cy="439.1" r="10.6"/><circle cx="1175.6" cy="439.8" r="10.6"/><circle cx="1177.5" cy="440.6" r="10.6"/><circle cx="1179.3" cy="441.3" r="10.6"/><circle cx="1181.1" cy="442.1" r="10.6"/><circle cx="1182.9" cy="442.9" r="10.6"/><circle cx="1184.7" cy="443.8" r="10.6"/><circle cx="1186.5" cy="444.6" r="10.6"/><circle cx="1188.3" cy="445.5" r="10.6"/><circle cx="1190.1" cy="446.5" r="10.6"/><circle cx="1191.9" cy="447.5" r="10.6"/><circle cx="1193.7" cy="448.6" r="10.6"/><circle cx="1195.5" cy="449.7" r="10.6"/><circle cx="1197.3" cy="450.8" r="10.6"/><circle cx="1199.1" cy="452" r="10.6"/><circle cx="1200.9" cy="453.1" r="10.6"/><circle cx="1202.7" cy="454.2" r="10.6"/><circle cx="1204.5" cy="455.3" r="10.6"/><circle cx="1206.4" cy="456.2" r="10.6"/><circle cx="1208.2" cy="457.1" r="10.6"/><circle cx="1210" cy="457.9" r="10.6"/><circle cx="1211.8" cy="458.7" r="10.6"/><circle cx="1213.6" cy="459.4" r="10.6"/><circle cx="1215.4" cy="460" r="10.6"/><circle cx="1217.2" cy="460.6" r="10.6"/><circle cx="1219" cy="461.2" r="10.6"/><circle cx="1220.8" cy="461.8" r="10.6"/><circle cx="1222.6" cy="462.4" r="10.6"/><circle cx="1224.4" cy="463" r="10.6"/><circle cx="1226.2" cy="463.6" r="10.6"/><circle cx="1228" cy="464.2" r="10.6"/><circle cx="1229.8" cy="464.8" r="10.6"/><circle cx="1231.6" cy="465.4" r="10.6"/><circle cx="1233.5" cy="466.1" r="10.6"/><circle cx="1235.3" cy="466.7" r="10.6"/><circle cx="1237.1" cy="467.3" r="10.6"/><circle cx="1238.9" cy="468" r="10.6"/><circle cx="1240.7" cy="468.6" r="10.6"/><circle cx="1242.5" cy="469.2" r="10.6"/><circle cx="1244.3" cy="469.9" r="10.6"/><circle cx="1246.1" cy="470.5" r="10.6"/><circle cx="1247.9" cy="471.1" r="10.6"/><circle cx="1249.7" cy="471.8" r="10.6"/><circle cx="1251.5" cy="472.4" r="10.6"/><circle cx="1253.3" cy="473" r="10.6"/><circle cx="1255.1" cy="473.7" r="10.6"/><circle cx="1256.9" cy="474.3" r="10.6"/><circle cx="1258.7" cy="474.9" r="10.6"/><circle cx="1260.6" cy="475.6" r="10.6"/><circle cx="1262.4" cy="476.2" r="10.6"/><circle cx="1264.2" cy="476.8" r="10.6"/><circle cx="1266" cy="477.5" r="10.6"/><circle cx="1267.8" cy="478.1" r="10.6"/><circle cx="1269.6" cy="478.7" r="10.6"/><circle cx="1271.4" cy="479.3" r="10.6"/><circle cx="1273.2" cy="480" r="10.6"/><circle cx="1275" cy="480.6" r="10.6"/><circle cx="1276.8" cy="481.2" r="10.6"/><circle cx="1278.6" cy="481.9" r="10.6"/><circle cx="1280.4" cy="482.5" r="10.6"/><circle cx="1282.2" cy="483.1" r="10.6"/><circle cx="1284" cy="483.8" r="10.6"/><circle cx="1285.8" cy="484.4" r="10.6"/><circle cx="1287.6" cy="485" r="10.6"/><circle cx="1289.5" cy="485.7" r="10.6"/><circle cx="1291.3" cy="486.3" r="10.6"/><circle cx="1293.1" cy="486.9" r="10.6"/><circle cx="1294.9" cy="487.6" r="10.6"/><circle cx="1296.7" cy="488.2" r="10.6"/><circle cx="1298.5" cy="488.9" r="10.6"/><circle cx="1300.3" cy="489.5" r="10.6"/><circle cx="1302.1" cy="490.2" r="10.6"/><circle cx="1303.9" cy="490.8" r="10.6"/><circle cx="1305.7" cy="491.5" r="10.6"/><circle cx="1307.5" cy="492.1" r="10.6"/><circle cx="1309.3" cy="492.8" r="10.6"/><circle cx="1311.1" cy="493.4" r="10.6"/><circle cx="1312.9" cy="494" r="10.6"/><circle cx="1314.7" cy="494.6" r="10.6"/><circle cx="1316.6" cy="495.1" r="10.6"/><circle cx="1318.4" cy="495.7" r="10.6"/><circle cx="1320.2" cy="496.4" r="10.6"/><circle cx="1322" cy="497" r="10.6"/><circle cx="1323.8" cy="497.6" r="10.6"/><circle cx="1325.6" cy="498.3" r="10.6"/><circle cx="1327.4" cy="498.9" r="10.6"/><circle cx="1329.2" cy="499.4" r="10.6"/><circle cx="1331" cy="499.9" r="10.6"/><circle cx="1332.8" cy="500.3" r="10.6"/><circle cx="1334.6" cy="500.5" r="10.6"/><circle cx="1336.4" cy="500.7" r="10.6"/><circle cx="1338.2" cy="500.7" r="10.6"/><circle cx="1340" cy="500.6" r="10.6"/><circle cx="1341.8" cy="500.4" r="10.6"/><circle cx="1343.7" cy="500.2" r="10.6"/><circle cx="1345.5" cy="499.9" r="10.6"/><circle cx="1347.3" cy="499.6" r="10.6"/><circle cx="1349.1" cy="499.2" r="10.6"/><circle cx="1350.9" cy="498.9" r="10.6"/><circle cx="1352.7" cy="498.6" r="10.6"/><circle cx="1354.5" cy="498.3" r="10.6"/><circle cx="1356.3" cy="498.1" r="10.6"/><circle cx="1358.1" cy="498" r="10.6"/><circle cx="1359.9" cy="498" r="10.6"/><circle cx="1361.7" cy="498" r="10.6"/><circle cx="1363.5" cy="498" r="10.6"/><circle cx="1365.3" cy="498" r="10.6"/><circle cx="1367.1" cy="498" r="10.6"/><circle cx="1368.9" cy="498" r="10.6"/><circle cx="1370.7" cy="498" r="10.6"/><circle cx="1372.6" cy="498" r="10.6"/><circle cx="1374.4" cy="498" r="10.6"/><circle cx="1376.2" cy="498" r="10.6"/><circle cx="1378" cy="498" r="10.6"/><circle cx="1379.8" cy="498" r="10.6"/><circle cx="1381.6" cy="498" r="10.6"/><circle cx="1383.4" cy="497.9" r="10.6"/><circle cx="1385.2" cy="497.8" r="10.6"/><circle cx="1387" cy="497.7" r="10.6"/><circle cx="1388.8" cy="497.5" r="10.6"/><circle cx="1390.6" cy="497.3" r="10.6"/><circle cx="1392.4" cy="497.1" r="10.6"/><circle cx="1394.2" cy="496.9" r="10.6"/><circle cx="1396" cy="496.6" r="10.6"/><circle cx="1397.8" cy="496.4" r="10.6"/><circle cx="1399.7" cy="496.1" r="10.6"/><circle cx="1401.5" cy="495.9" r="10.6"/><circle cx="1403.3" cy="495.6" r="10.6"/><circle cx="1405.1" cy="495.4" r="10.6"/><circle cx="1406.9" cy="495" r="10.6"/><circle cx="1408.7" cy="494.7" r="10.6"/><circle cx="1410.5" cy="494.4" r="10.6"/><circle cx="1412.3" cy="494" r="10.6"/><circle cx="1414.1" cy="493.6" r="10.6"/><circle cx="1415.9" cy="493.2" r="10.6"/><circle cx="1417.7" cy="492.8" r="10.6"/><circle cx="1419.5" cy="492.4" r="10.6"/><circle cx="1421.3" cy="492" r="10.6"/><circle cx="1423.1" cy="491.6" r="10.6"/><circle cx="1424.9" cy="491.2" r="10.6"/><circle cx="1426.7" cy="490.8" r="10.6"/><circle cx="1428.6" cy="490.3" r="10.6"/><circle cx="1430.4" cy="489.9" r="10.6"/><circle cx="1432.2" cy="489.4" r="10.6"/><circle cx="1434" cy="489" r="10.6"/><circle cx="1435.8" cy="488.5" r="10.6"/><circle cx="1437.6" cy="488" r="10.6"/><circle cx="1439.4" cy="487.6" r="10.6"/><circle cx="1441.2" cy="487.1" r="10.6"/><circle cx="1443" cy="486.6" r="10.6"/><circle cx="1444.8" cy="486.2" r="10.6"/><circle cx="1446.6" cy="485.7" r="10.6"/><circle cx="1448.4" cy="485.3" r="10.6"/><circle cx="1450.2" cy="484.9" r="10.6"/><circle cx="1452" cy="484.5" r="10.6"/><circle cx="1453.8" cy="484" r="10.6"/><circle cx="1455.7" cy="483.6" r="10.6"/><circle cx="1457.5" cy="483.1" r="10.6"/><circle cx="1459.3" cy="482.6" r="10.6"/><circle cx="1461.1" cy="482" r="10.6"/><circle cx="1462.9" cy="481.2" r="10.6"/><circle cx="1464.7" cy="480.5" r="10.6"/><circle cx="1466.5" cy="479.7" r="10.6"/><circle cx="1468.3" cy="479.1" r="10.6"/><circle cx="1470.1" cy="478.5" r="10.6"/><circle cx="1471.9" cy="477.9" r="10.6"/><circle cx="1473.7" cy="477.4" r="10.6"/><circle cx="1475.5" cy="476.9" r="10.6"/><circle cx="1477.3" cy="476.5" r="10.6"/><circle cx="1479.1" cy="476.1" r="10.6"/><circle cx="1480.9" cy="475.7" r="10.6"/><circle cx="1482.8" cy="475.5" r="10.6"/><circle cx="1484.6" cy="475.3" r="10.6"/><circle cx="1486.4" cy="475.1" r="10.6"/><circle cx="1488.2" cy="475" r="10.6"/><circle cx="1490" cy="474.9" r="10.6"/><circle cx="1491.8" cy="474.8" r="10.6"/><circle cx="1493.6" cy="474.7" r="10.6"/><circle cx="1495.4" cy="474.6" r="10.6"/><circle cx="1497.2" cy="474.5" r="10.6"/><circle cx="1499" cy="474.4" r="10.6"/><circle cx="1500.8" cy="474.2" r="10.6"/><circle cx="1502.6" cy="474.1" r="10.6"/><circle cx="1504.4" cy="473.9" r="10.6"/><circle cx="1506.2" cy="473.7" r="10.6"/><circle cx="1508" cy="473.4" r="10.6"/><circle cx="1509.8" cy="473.1" r="10.6"/><circle cx="1511.7" cy="472.8" r="10.6"/><circle cx="1513.5" cy="472.4" r="10.6"/><circle cx="1515.3" cy="472" r="10.6"/><circle cx="1517.1" cy="471.6" r="10.6"/><circle cx="1518.9" cy="471.2" r="10.6"/><circle cx="1520.7" cy="470.8" r="10.6"/><circle cx="1522.5" cy="470.5" r="10.6"/><circle cx="1524.3" cy="470.1" r="10.6"/><circle cx="1526.1" cy="469.8" r="10.6"/><circle cx="1527.9" cy="469.6" r="10.6"/><circle cx="1529.7" cy="469.3" r="10.6"/><circle cx="1531.5" cy="469" r="10.6"/><circle cx="1533.3" cy="468.7" r="10.6"/><circle cx="1535.1" cy="468.5" r="10.6"/><circle cx="1536.9" cy="468.2" r="10.6"/><circle cx="1538.8" cy="468" r="10.6"/><circle cx="1540.6" cy="467.7" r="10.6"/><circle cx="1542.4" cy="467.5" r="10.6"/><circle cx="1544.2" cy="467.4" r="10.6"/><circle cx="1546" cy="467.2" r="10.6"/><circle cx="1547.8" cy="467" r="10.6"/><circle cx="1549.6" cy="466.9" r="10.6"/><circle cx="1551.4" cy="466.8" r="10.6"/><circle cx="1553.2" cy="466.7" r="10.6"/><circle cx="1555" cy="466.5" r="10.6"/><circle cx="1556.8" cy="466.4" r="10.6"/><circle cx="1558.6" cy="466.3" r="10.6"/><circle cx="1560.4" cy="466.2" r="10.6"/><circle cx="1562.2" cy="466.2" r="10.6"/><circle cx="1564" cy="466.1" r="10.6"/><circle cx="1565.9" cy="466" r="10.6"/><circle cx="1567.7" cy="466" r="10.6"/><circle cx="1569.5" cy="466" r="10.6"/><circle cx="1571.3" cy="466" r="10.6"/><circle cx="1573.1" cy="466" r="10.6"/><circle cx="1574.9" cy="466" r="10.6"/><circle cx="1576.7" cy="466" r="10.6"/><circle cx="1578.5" cy="466" r="10.6"/><circle cx="1580.3" cy="466" r="10.6"/><circle cx="1582.1" cy="466" r="10.6"/><circle cx="1583.9" cy="466" r="10.6"/><circle cx="1585.7" cy="466" r="10.6"/><circle cx="1587.5" cy="466" r="10.6"/><circle cx="1589.3" cy="466" r="10.6"/><circle cx="1591.1" cy="466" r="10.6"/><circle cx="1592.9" cy="466" r="10.6"/><circle cx="1594.8" cy="466.1" r="10.6"/><circle cx="1596.6" cy="466.2" r="10.6"/><circle cx="1598.4" cy="466.2" r="10.6"/><circle cx="1600.2" cy="466.3" r="10.6"/><circle cx="1602" cy="466.5" r="10.6"/><circle cx="1603.8" cy="466.6" r="10.6"/><circle cx="1605.6" cy="466.7" r="10.6"/><circle cx="1607.4" cy="466.8" r="10.6"/><circle cx="1609.2" cy="466.9" r="10.6"/><circle cx="1611" cy="467" r="10.6"/><circle cx="1612.8" cy="467.2" r="10.6"/><circle cx="1614.6" cy="467.3" r="10.6"/><circle cx="1616.4" cy="467.4" r="10.6"/><circle cx="1618.2" cy="467.6" r="10.6"/><circle cx="1620" cy="467.8" r="10.6"/><circle cx="1621.9" cy="467.9" r="10.6"/><circle cx="1623.7" cy="468.1" r="10.6"/><circle cx="1625.5" cy="468.2" r="10.6"/><circle cx="1627.3" cy="468.4" r="10.6"/><circle cx="1629.1" cy="468.5" r="10.6"/><circle cx="1630.9" cy="468.5" r="10.6"/><circle cx="1632.7" cy="468.6" r="10.6"/><circle cx="1634.5" cy="468.5" r="10.6"/><circle cx="1636.3" cy="468.4" r="10.6"/><circle cx="1638.1" cy="468.3" r="10.6"/><circle cx="1639.9" cy="468.1" r="10.6"/><circle cx="1641.7" cy="467.8" r="10.6"/><circle cx="1643.5" cy="467.6" r="10.6"/><circle cx="1645.3" cy="467.3" r="10.6"/><circle cx="1647.1" cy="467" r="10.6"/><circle cx="1649" cy="466.8" r="10.6"/><circle cx="1650.8" cy="466.6" r="10.6"/><circle cx="1652.6" cy="466.5" r="10.6"/><circle cx="1654.4" cy="466.5" r="10.6"/><circle cx="1656.2" cy="466.5" r="10.6"/><circle cx="1658" cy="466.5" r="10.6"/><circle cx="1659.8" cy="466.6" r="10.6"/><circle cx="1661.6" cy="466.8" r="10.6"/><circle cx="1663.4" cy="467" r="10.6"/><circle cx="1665.2" cy="467.1" r="10.6"/><circle cx="1667" cy="467.4" r="10.6"/><circle cx="1668.8" cy="467.6" r="10.6"/><circle cx="1670.6" cy="467.8" r="10.6"/><circle cx="1672.4" cy="468.1" r="10.6"/><circle cx="1674.2" cy="468.3" r="10.6"/><circle cx="1676" cy="468.6" r="10.6"/><circle cx="1677.9" cy="468.9" r="10.6"/><circle cx="1679.7" cy="469.2" r="10.6"/><circle cx="1681.5" cy="469.6" r="10.6"/><circle cx="1683.3" cy="470" r="10.6"/><circle cx="1685.1" cy="470.5" r="10.6"/><circle cx="1686.9" cy="470.9" r="10.6"/><circle cx="1688.7" cy="471.3" r="10.6"/><circle cx="1690.5" cy="471.7" r="10.6"/><circle cx="1692.3" cy="472.1" r="10.6"/><circle cx="1694.1" cy="472.4" r="10.6"/><circle cx="1695.9" cy="472.7" r="10.6"/><circle cx="1697.7" cy="472.9" r="10.6"/><circle cx="1699.5" cy="473" r="10.6"/><circle cx="1701.3" cy="473.1" r="10.6"/><circle cx="1703.1" cy="473.3" r="10.6"/><circle cx="1705" cy="473.4" r="10.6"/><circle cx="1706.8" cy="473.5" r="10.6"/><circle cx="1708.6" cy="473.5" r="10.6"/><circle cx="1710.4" cy="473.6" r="10.6"/><circle cx="1712.2" cy="473.7" r="10.6"/><circle cx="1714" cy="473.8" r="10.6"/><circle cx="1715.8" cy="473.8" r="10.6"/><circle cx="1717.6" cy="473.9" r="10.6"/><circle cx="1719.4" cy="474" r="10.6"/><circle cx="1721.2" cy="474" r="10.6"/><circle cx="1723" cy="474.1" r="10.6"/><circle cx="1724.8" cy="474.2" r="10.6"/><circle cx="1726.6" cy="474.2" r="10.6"/><circle cx="1728.4" cy="474.3" r="10.6"/><circle cx="1730.2" cy="474.3" r="10.6"/><circle cx="1732" cy="474.4" r="10.6"/><circle cx="1733.9" cy="474.4" r="10.6"/><circle cx="1735.7" cy="474.5" r="10.6"/><circle cx="1737.5" cy="474.5" r="10.6"/><circle cx="1739.3" cy="474.6" r="10.6"/><circle cx="1741.1" cy="474.6" r="10.6"/><circle cx="1742.9" cy="474.7" r="10.6"/><circle cx="1744.7" cy="474.7" r="10.6"/><circle cx="1746.5" cy="474.7" r="10.6"/><circle cx="1748.3" cy="474.8" r="10.6"/><circle cx="1750.1" cy="474.8" r="10.6"/><circle cx="1751.9" cy="474.9" r="10.6"/><circle cx="1753.7" cy="474.9" r="10.6"/><circle cx="1755.5" cy="474.9" r="10.6"/><circle cx="1757.3" cy="475" r="10.6"/><circle cx="1759.1" cy="475" r="10.6"/><circle cx="1761" cy="475" r="10.6"/><circle cx="1762.8" cy="475" r="10.6"/><circle cx="1764.6" cy="475.1" r="10.6"/><circle cx="1766.4" cy="475.1" r="10.6"/><circle cx="1768.2" cy="475.1" r="10.6"/><circle cx="1770" cy="475.1" r="10.6"/><circle cx="1771.8" cy="475.1" r="10.6"/><circle cx="1773.6" cy="475.2" r="10.6"/><circle cx="1775.4" cy="475.2" r="10.6"/><circle cx="1777.2" cy="475.2" r="10.6"/><circle cx="1779" cy="475.2" r="10.6"/><circle cx="1780.8" cy="475.2" r="10.6"/><circle cx="1782.6" cy="475.2" r="10.6"/><circle cx="1784.4" cy="475.2" r="10.6"/><circle cx="1786.2" cy="475.2" r="10.6"/><circle cx="1788.1" cy="475.2" r="10.6"/><circle cx="1789.9" cy="475.2" r="10.6"/><circle cx="1791.7" cy="475.2" r="10.6"/></g>
<path d="M640.6 804.3L640.7 803.6M642.3 780.4L642.4 779.3M649.3 688.6L649.4 688M651 664.9L651.1 663.4M652.7 640.2L652.9 637.5M654.4 614.4L654.6 611.4M656.2 588.3L656.4 584.9M657.9 561.7L658.2 557.7M659.7 534.6L659.9 531.2M661.4 508L661.6 505.6M663.2 482.4L663.3 481.2M664.9 458.1L665 456.9M666.6 433.8L666.8 431M668.4 407.9L668.5 406M670.1 382.9L670.3 378.5M671.7 355.3L672.2 347.5M673.5 324.3L673.9 318.7M675.4 295.6L675.5 294.1M677.1 270.9L677.2 270.3" stroke="#000080" stroke-width="4" fill="none"/><g fill="url(#gb)"><circle cx="246.6" cy="1030" r="10.6"/><circle cx="248.3" cy="1030" r="10.6"/><circle cx="250.1" cy="1030" r="10.6"/><circle cx="251.8" cy="1030" r="10.6"/><circle cx="253.5" cy="1030" r="10.6"/><circle cx="255.3" cy="1030" r="10.6"/><circle cx="257" cy="1030" r="10.6"/><circle cx="258.8" cy="1030" r="10.6"/><circle cx="260.5" cy="1030" r="10.6"/><circle cx="262.2" cy="1030" r="10.6"/><circle cx="264" cy="1030" r="10.6"/><circle cx="265.7" cy="1030" r="10.6"/><circle cx="267.4" cy="1030" r="10.6"/><circle cx="269.2" cy="1030" r="10.6"/><circle cx="270.9" cy="1030" r="10.6"/><circle cx="272.7" cy="1030" r="10.6"/><circle cx="274.4" cy="1030" r="10.6"/><circle cx="276.1" cy="1030" r="10.6"/><circle cx="277.9" cy="1030" r="10.6"/><circle cx="279.6" cy="1030" r="10.6"/><circle cx="281.4" cy="1030" r="10.6"/><circle cx="283.1" cy="1030" r="10.6"/><circle cx="284.8" cy="1030" r="10.6"/><circle cx="286.6" cy="1030" r="10.6"/><circle cx="288.3" cy="1030" r="10.6"/><circle cx="290.1" cy="1030" r="10.6"/><circle cx="291.8" cy="1030" r="10.6"/><circle cx="293.5" cy="1030" r="10.6"/><circle cx="295.3" cy="1030" r="10.6"/><circle cx="297" cy="1030" r="10.6"/><circle cx="298.8" cy="1030" r="10.6"/><circle cx="300.5" cy="1030" r="10.6"/><circle cx="302.2" cy="1030" r="10.6"/><circle cx="304" cy="1030" r="10.6"/><circle cx="305.7" cy="1030" r="10.6"/><circle cx="307.5" cy="1030" r="10.6"/><circle cx="309.2" cy="1030" r="10.6"/><circle cx="310.9" cy="1030" r="10.6"/><circle cx="312.7" cy="1030" r="10.6"/><circle cx="314.4" cy="1029.9" r="10.6"/><circle cx="316.2" cy="1029.9" r="10.6"/><circle cx="317.9" cy="1029.9" r="10.6"/><circle cx="319.6" cy="1029.9" r="10.6"/><circle cx="321.4" cy="1029.9" r="10.6"/><circle cx="323.1" cy="1029.9" r="10.6"/><circle cx="324.9" cy="1029.9" r="10.6"/><circle cx="326.6" cy="1029.9" r="10.6"/><circle cx="328.3" cy="1029.9" r="10.6"/><circle cx="330.1" cy="1029.8" r="10.6"/><circle cx="331.8" cy="1029.8" r="10.6"/><circle cx="333.6" cy="1029.8" r="10.6"/><circle cx="335.3" cy="1029.8" r="10.6"/><circle cx="337" cy="1029.8" r="10.6"/><circle cx="338.8" cy="1029.8" r="10.6"/><circle cx="340.5" cy="1029.8" r="10.6"/><circle cx="342.3" cy="1029.7" r="10.6"/><circle cx="344" cy="1029.7" r="10.6"/><circle cx="345.7" cy="1029.7" r="10.6"/><circle cx="347.5" cy="1029.7" r="10.6"/><circle cx="349.2" cy="1029.7" r="10.6"/><circle cx="351" cy="1029.6" r="10.6"/><circle cx="352.7" cy="1029.6" r="10.6"/><circle cx="354.4" cy="1029.6" r="10.6"/><circle cx="356.2" cy="1029.6" r="10.6"/><circle cx="357.9" cy="1029.6" r="10.6"/><circle cx="359.7" cy="1029.6" r="10.6"/><circle cx="361.4" cy="1029.5" r="10.6"/><circle cx="363.1" cy="1029.5" r="10.6"/><circle cx="364.9" cy="1029.5" r="10.6"/><circle cx="366.6" cy="1029.5" r="10.6"/><circle cx="368.4" cy="1029.5" r="10.6"/><circle cx="370.1" cy="1029.5" r="10.6"/><circle cx="371.8" cy="1029.4" r="10.6"/><circle cx="373.6" cy="1029.4" r="10.6"/><circle cx="375.3" cy="1029.4" r="10.6"/><circle cx="377.1" cy="1029.4" r="10.6"/><circle cx="378.8" cy="1029.4" r="10.6"/><circle cx="380.5" cy="1029.3" r="10.6"/><circle cx="382.3" cy="1029.3" r="10.6"/><circle cx="384" cy="1029.3" r="10.6"/><circle cx="385.8" cy="1029.3" r="10.6"/><circle cx="387.5" cy="1029.3" r="10.6"/><circle cx="389.2" cy="1029.3" r="10.6"/><circle cx="391" cy="1029.2" r="10.6"/><circle cx="392.7" cy="1029.2" r="10.6"/><circle cx="394.5" cy="1029.2" r="10.6"/><circle cx="396.2" cy="1029.2" r="10.6"/><circle cx="397.9" cy="1029.1" r="10.6"/><circle cx="399.7" cy="1029.1" r="10.6"/><circle cx="401.4" cy="1029.1" r="10.6"/><circle cx="403.2" cy="1029.1" r="10.6"/><circle cx="404.9" cy="1029.1" r="10.6"/><circle cx="406.6" cy="1029" r="10.6"/><circle cx="408.4" cy="1029" r="10.6"/><circle cx="410.1" cy="1029" r="10.6"/><circle cx="411.8" cy="1029" r="10.6"/><circle cx="413.6" cy="1028.9" r="10.6"/><circle cx="415.3" cy="1028.9" r="10.6"/><circle cx="417.1" cy="1028.9" r="10.6"/><circle cx="418.8" cy="1028.8" r="10.6"/><circle cx="420.5" cy="1028.8" r="10.6"/><circle cx="422.3" cy="1028.8" r="10.6"/><circle cx="424" cy="1028.8" r="10.6"/><circle cx="425.8" cy="1028.7" r="10.6"/><circle cx="427.5" cy="1028.7" r="10.6"/><circle cx="429.2" cy="1028.7" r="10.6"/><circle cx="431" cy="1028.6" r="10.6"/><circle cx="432.7" cy="1028.6" r="10.6"/><circle cx="434.5" cy="1028.6" r="10.6"/><circle cx="436.2" cy="1028.5" r="10.6"/><circle cx="437.9" cy="1028.5" r="10.6"/><circle cx="439.7" cy="1028.5" r="10.6"/><circle cx="441.4" cy="1028.4" r="10.6"/><circle cx="443.2" cy="1028.4" r="10.6"/><circle cx="444.9" cy="1028.4" r="10.6"/><circle cx="446.6" cy="1028.3" r="10.6"/><circle cx="448.4" cy="1028.3" r="10.6"/><circle cx="450.1" cy="1028.3" r="10.6"/><circle cx="451.9" cy="1028.2" r="10.6"/><circle cx="453.6" cy="1028.2" r="10.6"/><circle cx="455.3" cy="1028.1" r="10.6"/><circle cx="457.1" cy="1028.1" r="10.6"/><circle cx="458.8" cy="1028.1" r="10.6"/><circle cx="460.6" cy="1028" r="10.6"/><circle cx="462.3" cy="1028" r="10.6"/><circle cx="464" cy="1027.9" r="10.6"/><circle cx="465.8" cy="1027.9" r="10.6"/><circle cx="467.5" cy="1027.8" r="10.6"/><circle cx="469.3" cy="1027.8" r="10.6"/><circle cx="471" cy="1027.7" r="10.6"/><circle cx="472.7" cy="1027.7" r="10.6"/><circle cx="474.5" cy="1027.6" r="10.6"/><circle cx="476.2" cy="1027.6" r="10.6"/><circle cx="478" cy="1027.5" r="10.6"/><circle cx="479.7" cy="1027.4" r="10.6"/><circle cx="481.4" cy="1027.4" r="10.6"/><circle cx="483.2" cy="1027.3" r="10.6"/><circle cx="484.9" cy="1027.3" r="10.6"/><circle cx="486.7" cy="1027.2" r="10.6"/><circle cx="488.4" cy="1027.1" r="10.6"/><circle cx="490.1" cy="1027.1" r="10.6"/><circle cx="491.9" cy="1027" r="10.6"/><circle cx="493.6" cy="1026.9" r="10.6"/><circle cx="495.4" cy="1026.9" r="10.6"/><circle cx="497.1" cy="1026.8" r="10.6"/><circle cx="498.8" cy="1026.7" r="10.6"/><circle cx="500.6" cy="1026.6" r="10.6"/><circle cx="502.3" cy="1026.6" r="10.6"/><circle cx="504.1" cy="1026.5" r="10.6"/><circle cx="505.8" cy="1026.4" r="10.6"/><circle cx="507.5" cy="1026.4" r="10.6"/><circle cx="509.3" cy="1026.3" r="10.6"/><circle cx="511" cy="1026.2" r="10.6"/><circle cx="512.8" cy="1026.1" r="10.6"/><circle cx="514.5" cy="1026.1" r="10.6"/><circle cx="516.2" cy="1026" r="10.6"/><circle cx="518" cy="1025.9" r="10.6"/><circle cx="519.7" cy="1025.8" r="10.6"/><circle cx="521.5" cy="1025.7" r="10.6"/><circle cx="523.2" cy="1025.6" r="10.6"/><circle cx="524.9" cy="1025.5" r="10.6"/><circle cx="526.7" cy="1025.3" r="10.6"/><circle cx="528.4" cy="1025.2" r="10.6"/><circle cx="530.2" cy="1025" r="10.6"/><circle cx="531.9" cy="1024.8" r="10.6"/><circle cx="533.6" cy="1024.6" r="10.6"/><circle cx="535.4" cy="1024.2" r="10.6"/><circle cx="537.1" cy="1023.8" r="10.6"/><circle cx="538.9" cy="1023.4" r="10.6"/><circle cx="540.6" cy="1023" r="10.6"/><circle cx="542.3" cy="1022.6" r="10.6"/><circle cx="544.1" cy="1022.3" r="10.6"/><circle cx="545.8" cy="1022" r="10.6"/><circle cx="547.6" cy="1021.7" r="10.6"/><circle cx="549.3" cy="1021.3" r="10.6"/><circle cx="551" cy="1020.7" r="10.6"/><circle cx="552.8" cy="1020" r="10.6"/><circle cx="554.5" cy="1019.2" r="10.6"/><circle cx="556.3" cy="1018.1" r="10.6"/><circle cx="558" cy="1016.6" r="10.6"/><circle cx="559.7" cy="1015" r="10.6"/><circle cx="561.5" cy="1013.3" r="10.6"/><circle cx="563.2" cy="1011.6" r="10.6"/><circle cx="564.9" cy="1010.3" r="10.6"/><circle cx="566.7" cy="1009" r="10.6"/><circle cx="568.4" cy="1007.9" r="10.6"/><circle cx="570.2" cy="1006.9" r="10.6"/><circle cx="571.9" cy="1006.4" r="10.6"/><circle cx="573.6" cy="1005.9" r="10.6"/><circle cx="575.4" cy="1005.3" r="10.6"/><circle cx="577.1" cy="1004.5" r="10.6"/><circle cx="578.9" cy="1003.2" r="10.6"/><circle cx="580.6" cy="1001.8" r="10.6"/><circle cx="582.3" cy="1000.3" r="10.6"/><circle cx="584.1" cy="998.5" r="10.6"/><circle cx="585.8" cy="996.5" r="10.6"/><circle cx="587.6" cy="994.6" r="10.6"/><circle cx="589.3" cy="993" r="10.6"/><circle cx="591" cy="991.4" r="10.6"/><circle cx="592.8" cy="989.9" r="10.6"/><circle cx="594.5" cy="988.3" r="10.6"/><circle cx="596.3" cy="986.5" r="10.6"/><circle cx="598" cy="984.7" r="10.6"/><circle cx="599.7" cy="982.9" r="10.6"/><circle cx="601.5" cy="980.9" r="10.6"/><circle cx="603.2" cy="978.8" r="10.6"/><circle cx="605" cy="976.3" r="10.6"/><circle cx="606.7" cy="973.8" r="10.6"/><circle cx="608.4" cy="970.8" r="10.6"/><circle cx="610.2" cy="967.5" r="10.6"/><circle cx="611.9" cy="963.9" r="10.6"/><circle cx="613.7" cy="959.8" r="10.6"/><circle cx="615.4" cy="955.3" r="10.6"/><circle cx="617.1" cy="950.7" r="10.6"/><circle cx="618.9" cy="945.4" r="10.6"/><circle cx="620.6" cy="938.2" r="10.6"/><circle cx="622.4" cy="929.7" r="10.6"/><circle cx="624.1" cy="921.3" r="10.6"/><circle cx="625.8" cy="913.7" r="10.6"/><circle cx="627.6" cy="906.7" r="10.6"/><circle cx="629.3" cy="899.4" r="10.6"/><circle cx="631.1" cy="891.2" r="10.6"/><circle cx="632.8" cy="880.6" r="10.6"/><circle cx="634.5" cy="866.9" r="10.6"/><circle cx="636.3" cy="852.1" r="10.6"/><circle cx="638" cy="836" r="10.6"/><circle cx="639.8" cy="815.8" r="10.6"/><circle cx="641.5" cy="792" r="10.6"/><circle cx="643.2" cy="767.8" r="10.6"/><circle cx="645" cy="745.1" r="10.6"/><circle cx="646.7" cy="723" r="10.6"/><circle cx="648.5" cy="700.2" r="10.6"/><circle cx="650.2" cy="676.4" r="10.6"/><circle cx="651.9" cy="651.8" r="10.6"/><circle cx="653.7" cy="626" r="10.6"/><circle cx="655.4" cy="599.8" r="10.6"/><circle cx="657.2" cy="573.3" r="10.6"/><circle cx="658.9" cy="546.2" r="10.6"/><circle cx="660.6" cy="519.6" r="10.6"/><circle cx="662.4" cy="494" r="10.6"/><circle cx="664.1" cy="469.6" r="10.6"/><circle cx="665.9" cy="445.3" r="10.6"/><circle cx="667.6" cy="419.5" r="10.6"/><circle cx="669.3" cy="394.4" r="10.6"/><circle cx="671.1" cy="366.9" r="10.6"/><circle cx="672.8" cy="335.9" r="10.6"/><circle cx="674.6" cy="307.2" r="10.6"/><circle cx="676.3" cy="282.5" r="10.6"/><circle cx="678" cy="258.7" r="10.6"/><circle cx="679.8" cy="235.7" r="10.6"/><circle cx="681.5" cy="218.9" r="10.6"/><circle cx="683.3" cy="206" r="10.6"/><circle cx="685" cy="194.3" r="10.6"/><circle cx="686.7" cy="184.6" r="10.6"/><circle cx="688.5" cy="178.8" r="10.6"/><circle cx="690.2" cy="174.7" r="10.6"/><circle cx="692" cy="171.1" r="10.6"/><circle cx="693.7" cy="169" r="10.6"/><circle cx="695.4" cy="169.1" r="10.6"/><circle cx="697.2" cy="169.7" r="10.6"/><circle cx="698.9" cy="170.7" r="10.6"/><circle cx="700.7" cy="172.8" r="10.6"/><circle cx="702.4" cy="176.6" r="10.6"/><circle cx="704.1" cy="180.8" r="10.6"/><circle cx="705.9" cy="185" r="10.6"/><circle cx="707.6" cy="190.3" r="10.6"/><circle cx="709.4" cy="196" r="10.6"/><circle cx="711.1" cy="201.8" r="10.6"/><circle cx="712.8" cy="209.7" r="10.6"/><circle cx="714.6" cy="221.1" r="10.6"/><circle cx="716.3" cy="233" r="10.6"/><circle cx="718" cy="244.4" r="10.6"/><circle cx="719.8" cy="254.1" r="10.6"/><circle cx="721.5" cy="263.4" r="10.6"/><circle cx="723.3" cy="273.5" r="10.6"/><circle cx="725" cy="284.2" r="10.6"/><circle cx="726.7" cy="295.5" r="10.6"/><circle cx="728.5" cy="306.9" r="10.6"/><circle cx="730.2" cy="317.5" r="10.6"/><circle cx="732" cy="326.6" r="10.6"/><circle cx="733.7" cy="335.4" r="10.6"/><circle cx="735.4" cy="344" r="10.6"/><circle cx="737.2" cy="351.9" r="10.6"/><circle cx="738.9" cy="360.2" r="10.6"/><circle cx="740.7" cy="369.4" r="10.6"/><circle cx="742.4" cy="379.1" r="10.6"/><circle cx="744.1" cy="388.1" r="10.6"/><circle cx="745.9" cy="397" r="10.6"/><circle cx="747.6" cy="405.6" r="10.6"/><circle cx="749.4" cy="412.3" r="10.6"/><circle cx="751.1" cy="417.5" r="10.6"/><circle cx="752.8" cy="422.9" r="10.6"/><circle cx="754.6" cy="428.4" r="10.6"/><circle cx="756.3" cy="433.5" r="10.6"/><circle cx="758.1" cy="438.9" r="10.6"/><circle cx="759.8" cy="444.1" r="10.6"/><circle cx="761.5" cy="448.4" r="10.6"/><circle cx="763.3" cy="452.2" r="10.6"/><circle cx="765" cy="455.9" r="10.6"/><circle cx="766.8" cy="459.4" r="10.6"/><circle cx="768.5" cy="462.3" r="10.6"/><circle cx="770.2" cy="465" r="10.6"/><circle cx="772" cy="467.6" r="10.6"/><circle cx="773.7" cy="469.9" r="10.6"/><circle cx="775.5" cy="471.8" r="10.6"/><circle cx="777.2" cy="473.5" r="10.6"/><circle cx="778.9" cy="474.8" r="10.6"/><circle cx="780.7" cy="476" r="10.6"/><circle cx="782.4" cy="477" r="10.6"/><circle cx="784.2" cy="477.9" r="10.6"/><circle cx="785.9" cy="478.7" r="10.6"/><circle cx="787.6" cy="479.2" r="10.6"/><circle cx="789.4" cy="479.7" r="10.6"/><circle cx="791.1" cy="480" r="10.6"/><circle cx="792.9" cy="480.3" r="10.6"/><circle cx="794.6" cy="480.4" r="10.6"/><circle cx="796.3" cy="480.5" r="10.6"/><circle cx="798.1" cy="480.4" r="10.6"/><circle cx="799.8" cy="480.2" r="10.6"/><circle cx="801.6" cy="480" r="10.6"/><circle cx="803.3" cy="479.8" r="10.6"/><circle cx="805" cy="479.6" r="10.6"/><circle cx="806.8" cy="479.5" r="10.6"/><circle cx="808.5" cy="479.3" r="10.6"/><circle cx="810.3" cy="479.2" r="10.6"/><circle cx="812" cy="479.1" r="10.6"/><circle cx="813.7" cy="479.1" r="10.6"/><circle cx="815.5" cy="479.2" r="10.6"/><circle cx="817.2" cy="479.4" r="10.6"/><circle cx="819" cy="479.7" r="10.6"/><circle cx="820.7" cy="480" r="10.6"/><circle cx="822.4" cy="480.3" r="10.6"/><circle cx="824.2" cy="480.9" r="10.6"/><circle cx="825.9" cy="481.5" r="10.6"/><circle cx="827.7" cy="482.3" r="10.6"/><circle cx="829.4" cy="483.2" r="10.6"/><circle cx="831.1" cy="484.1" r="10.6"/><circle cx="832.9" cy="485.1" r="10.6"/><circle cx="834.6" cy="486.2" r="10.6"/><circle cx="836.4" cy="487.5" r="10.6"/><circle cx="838.1" cy="489" r="10.6"/><circle cx="839.8" cy="490.6" r="10.6"/><circle cx="841.6" cy="492.2" r="10.6"/><circle cx="843.3" cy="493.9" r="10.6"/><circle cx="845.1" cy="495.5" r="10.6"/><circle cx="846.8" cy="496.9" r="10.6"/><circle cx="848.5" cy="498.5" r="10.6"/><circle cx="850.3" cy="500.3" r="10.6"/><circle cx="852" cy="502.2" r="10.6"/><circle cx="853.8" cy="504.3" r="10.6"/><circle cx="855.5" cy="506.4" r="10.6"/><circle cx="857.2" cy="508.6" r="10.6"/><circle cx="859" cy="510.8" r="10.6"/><circle cx="860.7" cy="513.1" r="10.6"/><circle cx="862.5" cy="515.4" r="10.6"/><circle cx="864.2" cy="517.8" r="10.6"/><circle cx="865.9" cy="520.1" r="10.6"/><circle cx="867.7" cy="522.4" r="10.6"/><circle cx="869.4" cy="524.7" r="10.6"/><circle cx="871.1" cy="527" r="10.6"/><circle cx="872.9" cy="529.3" r="10.6"/><circle cx="874.6" cy="531.5" r="10.6"/><circle cx="876.4" cy="533.8" r="10.6"/><circle cx="878.1" cy="536" r="10.6"/><circle cx="879.8" cy="538.2" r="10.6"/><circle cx="881.6" cy="540.4" r="10.6"/><circle cx="883.3" cy="542.5" r="10.6"/><circle cx="885.1" cy="544.6" r="10.6"/><circle cx="886.8" cy="546.6" r="10.6"/><circle cx="888.5" cy="548.5" r="10.6"/><circle cx="890.3" cy="550.3" r="10.6"/><circle cx="892" cy="552" r="10.6"/><circle cx="893.8" cy="553.6" r="10.6"/><circle cx="895.5" cy="555.1" r="10.6"/><circle cx="897.2" cy="556.2" r="10.6"/><circle cx="899" cy="557.2" r="10.6"/><circle cx="900.7" cy="558" r="10.6"/><circle cx="902.5" cy="558.8" r="10.6"/><circle cx="904.2" cy="559.3" r="10.6"/><circle cx="905.9" cy="559.5" r="10.6"/><circle cx="907.7" cy="559.5" r="10.6"/><circle cx="909.4" cy="559.3" r="10.6"/><circle cx="911.2" cy="559.1" r="10.6"/><circle cx="912.9" cy="558.8" r="10.6"/><circle cx="914.6" cy="558.5" r="10.6"/><circle cx="916.4" cy="558" r="10.6"/><circle cx="918.1" cy="557.3" r="10.6"/><circle cx="919.9" cy="556.4" r="10.6"/><circle cx="921.6" cy="555.5" r="10.6"/><circle cx="923.3" cy="554.4" r="10.6"/><circle cx="925.1" cy="553.3" r="10.6"/><circle cx="926.8" cy="552" r="10.6"/><circle cx="928.6" cy="550.6" r="10.6"/><circle cx="930.3" cy="549.1" r="10.6"/><circle cx="932" cy="547.5" r="10.6"/><circle cx="933.8" cy="545.7" r="10.6"/><circle cx="935.5" cy="544" r="10.6"/><circle cx="937.3" cy="542.2" r="10.6"/><circle cx="939" cy="540.4" r="10.6"/><circle cx="940.7" cy="538.5" r="10.6"/><circle cx="942.5" cy="536.6" r="10.6"/><circle cx="944.2" cy="534.6" r="10.6"/><circle cx="946" cy="532.6" r="10.6"/><circle cx="947.7" cy="530.6" r="10.6"/><circle cx="949.4" cy="528.6" r="10.6"/><circle cx="951.2" cy="526.5" r="10.6"/><circle cx="952.9" cy="524.4" r="10.6"/><circle cx="954.7" cy="522.3" r="10.6"/><circle cx="956.4" cy="520.2" r="10.6"/><circle cx="958.1" cy="518" r="10.6"/><circle cx="959.9" cy="515.8" r="10.6"/><circle cx="961.6" cy="513.5" r="10.6"/><circle cx="963.4" cy="511.3" r="10.6"/><circle cx="965.1" cy="509" r="10.6"/><circle cx="966.8" cy="506.7" r="10.6"/><circle cx="968.6" cy="504.4" r="10.6"/><circle cx="970.3" cy="502.2" r="10.6"/><circle cx="972.1" cy="499.9" r="10.6"/><circle cx="973.8" cy="497.6" r="10.6"/><circle cx="975.5" cy="495.4" r="10.6"/><circle cx="977.3" cy="493.1" r="10.6"/><circle cx="979" cy="490.8" r="10.6"/><circle cx="980.8" cy="488.6" r="10.6"/><circle cx="982.5" cy="486.3" r="10.6"/><circle cx="984.2" cy="484.1" r="10.6"/><circle cx="986" cy="481.8" r="10.6"/><circle cx="987.7" cy="479.5" r="10.6"/><circle cx="989.5" cy="477.3" r="10.6"/><circle cx="991.2" cy="475" r="10.6"/><circle cx="992.9" cy="472.7" r="10.6"/><circle cx="994.7" cy="470.4" r="10.6"/><circle cx="996.4" cy="468.2" r="10.6"/><circle cx="998.2" cy="465.9" r="10.6"/><circle cx="999.9" cy="463.7" r="10.6"/><circle cx="1001.6" cy="461.5" r="10.6"/><circle cx="1003.4" cy="459.3" r="10.6"/><circle cx="1005.1" cy="457.2" r="10.6"/><circle cx="1006.9" cy="455.1" r="10.6"/><circle cx="1008.6" cy="453" r="10.6"/><circle cx="1010.3" cy="451.1" r="10.6"/><circle cx="1012.1" cy="449.2" r="10.6"/><circle cx="1013.8" cy="447.3" r="10.6"/><circle cx="1015.5" cy="445.6" r="10.6"/><circle cx="1017.3" cy="443.8" r="10.6"/><circle cx="1019" cy="442.1" r="10.6"/><circle cx="1020.8" cy="440.5" r="10.6"/><circle cx="1022.5" cy="438.8" r="10.6"/><circle cx="1024.2" cy="437.2" r="10.6"/><circle cx="1026" cy="435.5" r="10.6"/><circle cx="1027.7" cy="433.9" r="10.6"/><circle cx="1029.5" cy="432.4" r="10.6"/><circle cx="1031.2" cy="430.9" r="10.6"/><circle cx="1032.9" cy="429.5" r="10.6"/><circle cx="1034.7" cy="428.1" r="10.6"/><circle cx="1036.4" cy="426.8" r="10.6"/><circle cx="1038.2" cy="425.6" r="10.6"/><circle cx="1039.9" cy="424.4" r="10.6"/><circle cx="1041.6" cy="423.3" r="10.6"/><circle cx="1043.4" cy="422.2" r="10.6"/><circle cx="1045.1" cy="421.2" r="10.6"/><circle cx="1046.9" cy="420.3" r="10.6"/><circle cx="1048.6" cy="419.3" r="10.6"/><circle cx="1050.3" cy="418.5" r="10.6"/><circle cx="1052.1" cy="417.7" r="10.6"/><circle cx="1053.8" cy="417" r="10.6"/><circle cx="1055.6" cy="416.3" r="10.6"/><circle cx="1057.3" cy="415.8" r="10.6"/><circle cx="1059" cy="415.2" r="10.6"/><circle cx="1060.8" cy="414.7" r="10.6"/><circle cx="1062.5" cy="414.2" r="10.6"/><circle cx="1064.3" cy="413.8" r="10.6"/><circle cx="1066" cy="413.3" r="10.6"/><circle cx="1067.7" cy="412.9" r="10.6"/><circle cx="1069.5" cy="412.4" r="10.6"/><circle cx="1071.2" cy="412" r="10.6"/><circle cx="1073" cy="411.7" r="10.6"/><circle cx="1074.7" cy="411.6" r="10.6"/><circle cx="1076.4" cy="411.7" r="10.6"/><circle cx="1078.2" cy="412.1" r="10.6"/><circle cx="1079.9" cy="412.4" r="10.6"/><circle cx="1081.7" cy="412.2" r="10.6"/><circle cx="1083.4" cy="411.7" r="10.6"/><circle cx="1085.1" cy="411.3" r="10.6"/><circle cx="1086.9" cy="411.2" r="10.6"/><circle cx="1088.6" cy="411.5" r="10.6"/><circle cx="1090.4" cy="411.8" r="10.6"/><circle cx="1092.1" cy="412.2" r="10.6"/><circle cx="1093.8" cy="412.4" r="10.6"/><circle cx="1095.6" cy="412.7" r="10.6"/><circle cx="1097.3" cy="412.9" r="10.6"/><circle cx="1099.1" cy="413.2" r="10.6"/><circle cx="1100.8" cy="413.5" r="10.6"/><circle cx="1102.5" cy="413.9" r="10.6"/><circle cx="1104.3" cy="414.3" r="10.6"/><circle cx="1106" cy="414.7" r="10.6"/><circle cx="1107.8" cy="415.2" r="10.6"/><circle cx="1109.5" cy="415.7" r="10.6"/><circle cx="1111.2" cy="416.2" r="10.6"/><circle cx="1113" cy="416.7" r="10.6"/><circle cx="1114.7" cy="417.3" r="10.6"/><circle cx="1116.5" cy="417.9" r="10.6"/><circle cx="1118.2" cy="418.5" r="10.6"/><circle cx="1119.9" cy="419.1" r="10.6"/><circle cx="1121.7" cy="419.7" r="10.6"/><circle cx="1123.4" cy="420.3" r="10.6"/><circle cx="1125.2" cy="420.9" r="10.6"/><circle cx="1126.9" cy="421.5" r="10.6"/><circle cx="1128.6" cy="422.2" r="10.6"/><circle cx="1130.4" cy="422.9" r="10.6"/><circle cx="1132.1" cy="423.5" r="10.6"/><circle cx="1133.9" cy="424.2" r="10.6"/><circle cx="1135.6" cy="425" r="10.6"/><circle cx="1137.3" cy="425.7" r="10.6"/><circle cx="1139.1" cy="426.4" r="10.6"/><circle cx="1140.8" cy="427.2" r="10.6"/><circle cx="1142.6" cy="427.9" r="10.6"/><circle cx="1144.3" cy="428.6" r="10.6"/><circle cx="1146" cy="429.4" r="10.6"/><circle cx="1147.8" cy="430.1" r="10.6"/><circle cx="1149.5" cy="430.9" r="10.6"/><circle cx="1151.3" cy="431.7" r="10.6"/><circle cx="1153" cy="432.5" r="10.6"/><circle cx="1154.7" cy="433.3" r="10.6"/><circle cx="1156.5" cy="434.1" r="10.6"/><circle cx="1158.2" cy="434.9" r="10.6"/><circle cx="1160" cy="435.7" r="10.6"/><circle cx="1161.7" cy="436.5" r="10.6"/><circle cx="1163.4" cy="437.3" r="10.6"/><circle cx="1165.2" cy="438" r="10.6"/><circle cx="1166.9" cy="438.8" r="10.6"/><circle cx="1168.6" cy="439.5" r="10.6"/><circle cx="1170.4" cy="440.2" r="10.6"/><circle cx="1172.1" cy="441" r="10.6"/><circle cx="1173.9" cy="441.7" r="10.6"/><circle cx="1175.6" cy="442.4" r="10.6"/><circle cx="1177.3" cy="443.1" r="10.6"/><circle cx="1179.1" cy="443.8" r="10.6"/><circle cx="1180.8" cy="444.4" r="10.6"/><circle cx="1182.6" cy="445.1" r="10.6"/><circle cx="1184.3" cy="445.8" r="10.6"/><circle cx="1186" cy="446.4" r="10.6"/><circle cx="1187.8" cy="447.1" r="10.6"/><circle cx="1189.5" cy="447.7" r="10.6"/><circle cx="1191.3" cy="448.4" r="10.6"/><circle cx="1193" cy="449" r="10.6"/><circle cx="1194.7" cy="449.6" r="10.6"/><circle cx="1196.5" cy="450.2" r="10.6"/><circle cx="1198.2" cy="450.8" r="10.6"/><circle cx="1200" cy="451.4" r="10.6"/><circle cx="1201.7" cy="452" r="10.6"/><circle cx="1203.4" cy="452.6" r="10.6"/><circle cx="1205.2" cy="453.2" r="10.6"/><circle cx="1206.9" cy="453.8" r="10.6"/><circle cx="1208.7" cy="454.4" r="10.6"/><circle cx="1210.4" cy="455" r="10.6"/><circle cx="1212.1" cy="455.6" r="10.6"/><circle cx="1213.9" cy="456.2" r="10.6"/><circle cx="1215.6" cy="456.8" r="10.6"/><circle cx="1217.4" cy="457.4" r="10.6"/><circle cx="1219.1" cy="458" r="10.6"/><circle cx="1220.8" cy="458.7" r="10.6"/><circle cx="1222.6" cy="459.3" r="10.6"/><circle cx="1224.3" cy="459.9" r="10.6"/><circle cx="1226.1" cy="460.5" r="10.6"/><circle cx="1227.8" cy="461.1" r="10.6"/><circle cx="1229.5" cy="461.7" r="10.6"/><circle cx="1231.3" cy="462.3" r="10.6"/><circle cx="1233" cy="462.9" r="10.6"/><circle cx="1234.8" cy="463.5" r="10.6"/><circle cx="1236.5" cy="464.1" r="10.6"/><circle cx="1238.2" cy="464.7" r="10.6"/><circle cx="1240" cy="465.3" r="10.6"/><circle cx="1241.7" cy="466" r="10.6"/><circle cx="1243.5" cy="466.6" r="10.6"/><circle cx="1245.2" cy="467.2" r="10.6"/><circle cx="1246.9" cy="467.8" r="10.6"/><circle cx="1248.7" cy="468.4" r="10.6"/><circle cx="1250.4" cy="469" r="10.6"/><circle cx="1252.2" cy="469.6" r="10.6"/><circle cx="1253.9" cy="470.2" r="10.6"/><circle cx="1255.6" cy="470.8" r="10.6"/><circle cx="1257.4" cy="471.4" r="10.6"/><circle cx="1259.1" cy="472" r="10.6"/><circle cx="1260.9" cy="472.7" r="10.6"/><circle cx="1262.6" cy="473.3" r="10.6"/><circle cx="1264.3" cy="473.9" r="10.6"/><circle cx="1266.1" cy="474.5" r="10.6"/><circle cx="1267.8" cy="475.1" r="10.6"/><circle cx="1269.6" cy="475.7" r="10.6"/><circle cx="1271.3" cy="476.3" r="10.6"/><circle cx="1273" cy="476.9" r="10.6"/><circle cx="1274.8" cy="477.5" r="10.6"/><circle cx="1276.5" cy="478.1" r="10.6"/><circle cx="1278.3" cy="478.7" r="10.6"/><circle cx="1280" cy="479.4" r="10.6"/><circle cx="1281.7" cy="480" r="10.6"/><circle cx="1283.5" cy="480.6" r="10.6"/><circle cx="1285.2" cy="481.2" r="10.6"/><circle cx="1287" cy="481.8" r="10.6"/><circle cx="1288.7" cy="482.4" r="10.6"/><circle cx="1290.4" cy="483" r="10.6"/><circle cx="1292.2" cy="483.6" r="10.6"/><circle cx="1293.9" cy="484.2" r="10.6"/><circle cx="1295.7" cy="484.8" r="10.6"/><circle cx="1297.4" cy="485.5" r="10.6"/><circle cx="1299.1" cy="486.1" r="10.6"/><circle cx="1300.9" cy="486.7" r="10.6"/><circle cx="1302.6" cy="487.4" r="10.6"/><circle cx="1304.4" cy="488" r="10.6"/><circle cx="1306.1" cy="488.6" r="10.6"/><circle cx="1307.8" cy="489.2" r="10.6"/><circle cx="1309.6" cy="489.8" r="10.6"/><circle cx="1311.3" cy="490.4" r="10.6"/><circle cx="1313.1" cy="491" r="10.6"/><circle cx="1314.8" cy="491.6" r="10.6"/><circle cx="1316.5" cy="492.1" r="10.6"/><circle cx="1318.3" cy="492.7" r="10.6"/><circle cx="1320" cy="493.2" r="10.6"/><circle cx="1321.7" cy="493.7" r="10.6"/><circle cx="1323.5" cy="494.2" r="10.6"/><circle cx="1325.2" cy="494.8" r="10.6"/><circle cx="1327" cy="495.3" r="10.6"/><circle cx="1328.7" cy="495.7" r="10.6"/><circle cx="1330.4" cy="496.2" r="10.6"/><circle cx="1332.2" cy="496.6" r="10.6"/><circle cx="1333.9" cy="497" r="10.6"/><circle cx="1335.7" cy="497.4" r="10.6"/><circle cx="1337.4" cy="497.7" r="10.6"/><circle cx="1339.1" cy="498.1" r="10.6"/><circle cx="1340.9" cy="498.4" r="10.6"/><circle cx="1342.6" cy="498.7" r="10.6"/><circle cx="1344.4" cy="499" r="10.6"/><circle cx="1346.1" cy="499.3" r="10.6"/><circle cx="1347.8" cy="499.6" r="10.6"/><circle cx="1349.6" cy="499.8" r="10.6"/><circle cx="1351.3" cy="500" r="10.6"/><circle cx="1353.1" cy="500.2" r="10.6"/><circle cx="1354.8" cy="500.4" r="10.6"/><circle cx="1356.5" cy="500.5" r="10.6"/><circle cx="1358.3" cy="500.5" r="10.6"/><circle cx="1360" cy="500.6" r="10.6"/><circle cx="1361.8" cy="500.6" r="10.6"/><circle cx="1363.5" cy="500.6" r="10.6"/><circle cx="1365.2" cy="500.6" r="10.6"/><circle cx="1367" cy="500.6" r="10.6"/><circle cx="1368.7" cy="500.6" r="10.6"/><circle cx="1370.5" cy="500.6" r="10.6"/><circle cx="1372.2" cy="500.6" r="10.6"/><circle cx="1373.9" cy="500.6" r="10.6"/><circle cx="1375.7" cy="500.6" r="10.6"/><circle cx="1377.4" cy="500.6" r="10.6"/><circle cx="1379.2" cy="500.6" r="10.6"/><circle cx="1380.9" cy="500.5" r="10.6"/><circle cx="1382.6" cy="500.5" r="10.6"/><circle cx="1384.4" cy="500.4" r="10.6"/><circle cx="1386.1" cy="500.3" r="10.6"/><circle cx="1387.9" cy="500.2" r="10.6"/><circle cx="1389.6" cy="500" r="10.6"/><circle cx="1391.3" cy="499.8" r="10.6"/><circle cx="1393.1" cy="499.6" r="10.6"/><circle cx="1394.8" cy="499.4" r="10.6"/><circle cx="1396.6" cy="499.1" r="10.6"/><circle cx="1398.3" cy="498.9" r="10.6"/><circle cx="1400" cy="498.7" r="10.6"/><circle cx="1401.8" cy="498.4" r="10.6"/><circle cx="1403.5" cy="498.2" r="10.6"/><circle cx="1405.3" cy="497.9" r="10.6"/><circle cx="1407" cy="497.6" r="10.6"/><circle cx="1408.7" cy="497.3" r="10.6"/><circle cx="1410.5" cy="496.9" r="10.6"/><circle cx="1412.2" cy="496.6" r="10.6"/><circle cx="1414" cy="496.2" r="10.6"/><circle cx="1415.7" cy="495.8" r="10.6"/><circle cx="1417.4" cy="495.4" r="10.6"/><circle cx="1419.2" cy="495.1" r="10.6"/><circle cx="1420.9" cy="494.7" r="10.6"/><circle cx="1422.7" cy="494.3" r="10.6"/><circle cx="1424.4" cy="493.9" r="10.6"/><circle cx="1426.1" cy="493.5" r="10.6"/><circle cx="1427.9" cy="493.1" r="10.6"/><circle cx="1429.6" cy="492.6" r="10.6"/><circle cx="1431.4" cy="492.2" r="10.6"/><circle cx="1433.1" cy="491.8" r="10.6"/><circle cx="1434.8" cy="491.3" r="10.6"/><circle cx="1436.6" cy="490.9" r="10.6"/><circle cx="1438.3" cy="490.4" r="10.6"/><circle cx="1440.1" cy="490" r="10.6"/><circle cx="1441.8" cy="489.5" r="10.6"/><circle cx="1443.5" cy="489.1" r="10.6"/><circle cx="1445.3" cy="488.6" r="10.6"/><circle cx="1447" cy="488.2" r="10.6"/><circle cx="1448.8" cy="487.8" r="10.6"/><circle cx="1450.5" cy="487.4" r="10.6"/><circle cx="1452.2" cy="487" r="10.6"/><circle cx="1454" cy="486.6" r="10.6"/><circle cx="1455.7" cy="486.2" r="10.6"/><circle cx="1457.5" cy="485.7" r="10.6"/><circle cx="1459.2" cy="485.2" r="10.6"/><circle cx="1460.9" cy="484.6" r="10.6"/><circle cx="1462.7" cy="483.9" r="10.6"/><circle cx="1464.4" cy="483.1" r="10.6"/><circle cx="1466.2" cy="482.4" r="10.6"/><circle cx="1467.9" cy="481.8" r="10.6"/><circle cx="1469.6" cy="481.3" r="10.6"/><circle cx="1471.4" cy="480.8" r="10.6"/><circle cx="1473.1" cy="480.4" r="10.6"/><circle cx="1474.8" cy="480" r="10.6"/><circle cx="1476.6" cy="479.6" r="10.6"/><circle cx="1478.3" cy="479.2" r="10.6"/><circle cx="1480.1" cy="478.7" r="10.6"/><circle cx="1481.8" cy="478.3" r="10.6"/><circle cx="1483.5" cy="477.9" r="10.6"/><circle cx="1485.3" cy="477.4" r="10.6"/><circle cx="1487" cy="476.9" r="10.6"/><circle cx="1488.8" cy="476.4" r="10.6"/><circle cx="1490.5" cy="475.8" r="10.6"/><circle cx="1492.2" cy="475.3" r="10.6"/><circle cx="1494" cy="474.8" r="10.6"/><circle cx="1495.7" cy="474.3" r="10.6"/><circle cx="1497.5" cy="473.8" r="10.6"/><circle cx="1499.2" cy="473.3" r="10.6"/><circle cx="1500.9" cy="472.9" r="10.6"/><circle cx="1502.7" cy="472.4" r="10.6"/><circle cx="1504.4" cy="472" r="10.6"/><circle cx="1506.2" cy="471.6" r="10.6"/><circle cx="1507.9" cy="471.2" r="10.6"/><circle cx="1509.6" cy="470.9" r="10.6"/><circle cx="1511.4" cy="470.5" r="10.6"/><circle cx="1513.1" cy="470.2" r="10.6"/><circle cx="1514.9" cy="469.8" r="10.6"/><circle cx="1516.6" cy="469.5" r="10.6"/><circle cx="1518.3" cy="469.2" r="10.6"/><circle cx="1520.1" cy="468.9" r="10.6"/><circle cx="1521.8" cy="468.6" r="10.6"/><circle cx="1523.6" cy="468.3" r="10.6"/><circle cx="1525.3" cy="468" r="10.6"/><circle cx="1527" cy="467.8" r="10.6"/><circle cx="1528.8" cy="467.5" r="10.6"/><circle cx="1530.5" cy="467.2" r="10.6"/><circle cx="1532.3" cy="467" r="10.6"/><circle cx="1534" cy="466.7" r="10.6"/><circle cx="1535.7" cy="466.4" r="10.6"/><circle cx="1537.5" cy="466.2" r="10.6"/><circle cx="1539.2" cy="466" r="10.6"/><circle cx="1541" cy="465.8" r="10.6"/><circle cx="1542.7" cy="465.6" r="10.6"/><circle cx="1544.4" cy="465.4" r="10.6"/><circle cx="1546.2" cy="465.2" r="10.6"/><circle cx="1547.9" cy="465.1" r="10.6"/><circle cx="1549.7" cy="465" r="10.6"/><circle cx="1551.4" cy="464.9" r="10.6"/><circle cx="1553.1" cy="464.7" r="10.6"/><circle cx="1554.9" cy="464.6" r="10.6"/><circle cx="1556.6" cy="464.5" r="10.6"/><circle cx="1558.4" cy="464.4" r="10.6"/><circle cx="1560.1" cy="464.3" r="10.6"/><circle cx="1561.8" cy="464.2" r="10.6"/><circle cx="1563.6" cy="464.2" r="10.6"/><circle cx="1565.3" cy="464.1" r="10.6"/><circle cx="1567.1" cy="464.1" r="10.6"/><circle cx="1568.8" cy="464.1" r="10.6"/><circle cx="1570.5" cy="464.1" r="10.6"/><circle cx="1572.3" cy="464.1" r="10.6"/><circle cx="1574" cy="464.1" r="10.6"/><circle cx="1575.8" cy="464.1" r="10.6"/><circle cx="1577.5" cy="464.1" r="10.6"/><circle cx="1579.2" cy="464.1" r="10.6"/><circle cx="1581" cy="464.1" r="10.6"/><circle cx="1582.7" cy="464.1" r="10.6"/><circle cx="1584.5" cy="464.1" r="10.6"/><circle cx="1586.2" cy="464.1" r="10.6"/><circle cx="1587.9" cy="464.1" r="10.6"/><circle cx="1589.7" cy="464.1" r="10.6"/><circle cx="1591.4" cy="464.1" r="10.6"/><circle cx="1593.2" cy="464.1" r="10.6"/><circle cx="1594.9" cy="464.2" r="10.6"/><circle cx="1596.6" cy="464.2" r="10.6"/><circle cx="1598.4" cy="464.3" r="10.6"/><circle cx="1600.1" cy="464.4" r="10.6"/><circle cx="1601.9" cy="464.5" r="10.6"/><circle cx="1603.6" cy="464.6" r="10.6"/><circle cx="1605.3" cy="464.7" r="10.6"/><circle cx="1607.1" cy="464.9" r="10.6"/><circle cx="1608.8" cy="465" r="10.6"/><circle cx="1610.6" cy="465.1" r="10.6"/><circle cx="1612.3" cy="465.2" r="10.6"/><circle cx="1614" cy="465.3" r="10.6"/><circle cx="1615.8" cy="465.4" r="10.6"/><circle cx="1617.5" cy="465.5" r="10.6"/><circle cx="1619.2" cy="465.6" r="10.6"/><circle cx="1621" cy="465.8" r="10.6"/><circle cx="1622.7" cy="465.9" r="10.6"/><circle cx="1624.5" cy="466" r="10.6"/><circle cx="1626.2" cy="466.1" r="10.6"/><circle cx="1627.9" cy="466.3" r="10.6"/><circle cx="1629.7" cy="466.4" r="10.6"/><circle cx="1631.4" cy="466.5" r="10.6"/><circle cx="1633.2" cy="466.7" r="10.6"/><circle cx="1634.9" cy="466.8" r="10.6"/><circle cx="1636.6" cy="466.9" r="10.6"/><circle cx="1638.4" cy="467" r="10.6"/><circle cx="1640.1" cy="467.2" r="10.6"/><circle cx="1641.9" cy="467.3" r="10.6"/><circle cx="1643.6" cy="467.5" r="10.6"/><circle cx="1645.3" cy="467.6" r="10.6"/><circle cx="1647.1" cy="467.7" r="10.6"/><circle cx="1648.8" cy="467.9" r="10.6"/><circle cx="1650.6" cy="468" r="10.6"/><circle cx="1652.3" cy="468.2" r="10.6"/><circle cx="1654" cy="468.3" r="10.6"/><circle cx="1655.8" cy="468.5" r="10.6"/><circle cx="1657.5" cy="468.6" r="10.6"/><circle cx="1659.3" cy="468.8" r="10.6"/><circle cx="1661" cy="469" r="10.6"/><circle cx="1662.7" cy="469.2" r="10.6"/><circle cx="1664.5" cy="469.4" r="10.6"/><circle cx="1666.2" cy="469.6" r="10.6"/><circle cx="1668" cy="469.7" r="10.6"/><circle cx="1669.7" cy="469.9" r="10.6"/><circle cx="1671.4" cy="470.1" r="10.6"/><circle cx="1673.2" cy="470.3" r="10.6"/><circle cx="1674.9" cy="470.4" r="10.6"/><circle cx="1676.7" cy="470.6" r="10.6"/><circle cx="1678.4" cy="470.7" r="10.6"/><circle cx="1680.1" cy="470.8" r="10.6"/><circle cx="1681.9" cy="471" r="10.6"/><circle cx="1683.6" cy="471.1" r="10.6"/><circle cx="1685.4" cy="471.2" r="10.6"/><circle cx="1687.1" cy="471.4" r="10.6"/><circle cx="1688.8" cy="471.5" r="10.6"/><circle cx="1690.6" cy="471.6" r="10.6"/><circle cx="1692.3" cy="471.7" r="10.6"/><circle cx="1694.1" cy="471.8" r="10.6"/><circle cx="1695.8" cy="471.9" r="10.6"/><circle cx="1697.5" cy="472" r="10.6"/><circle cx="1699.3" cy="472.1" r="10.6"/><circle cx="1701" cy="472.2" r="10.6"/><circle cx="1702.8" cy="472.3" r="10.6"/><circle cx="1704.5" cy="472.4" r="10.6"/><circle cx="1706.2" cy="472.5" r="10.6"/><circle cx="1708" cy="472.6" r="10.6"/><circle cx="1709.7" cy="472.7" r="10.6"/><circle cx="1711.5" cy="472.8" r="10.6"/><circle cx="1713.2" cy="472.8" r="10.6"/><circle cx="1714.9" cy="472.9" r="10.6"/><circle cx="1716.7" cy="473" r="10.6"/><circle cx="1718.4" cy="473.1" r="10.6"/><circle cx="1720.2" cy="473.1" r="10.6"/><circle cx="1721.9" cy="473.2" r="10.6"/><circle cx="1723.6" cy="473.3" r="10.6"/><circle cx="1725.4" cy="473.3" r="10.6"/><circle cx="1727.1" cy="473.4" r="10.6"/><circle cx="1728.9" cy="473.4" r="10.6"/><circle cx="1730.6" cy="473.5" r="10.6"/><circle cx="1732.3" cy="473.5" r="10.6"/><circle cx="1734.1" cy="473.6" r="10.6"/><circle cx="1735.8" cy="473.6" r="10.6"/><circle cx="1737.6" cy="473.7" r="10.6"/><circle cx="1739.3" cy="473.7" r="10.6"/><circle cx="1741" cy="473.7" r="10.6"/><circle cx="1742.8" cy="473.8" r="10.6"/><circle cx="1744.5" cy="473.8" r="10.6"/><circle cx="1746.3" cy="473.9" r="10.6"/><circle cx="1748" cy="473.9" r="10.6"/><circle cx="1749.7" cy="473.9" r="10.6"/><circle cx="1751.5" cy="474" r="10.6"/><circle cx="1753.2" cy="474" r="10.6"/><circle cx="1755" cy="474.1" r="10.6"/><circle cx="1756.7" cy="474.1" r="10.6"/><circle cx="1758.4" cy="474.1" r="10.6"/><circle cx="1760.2" cy="474.1" r="10.6"/><circle cx="1761.9" cy="474.2" r="10.6"/><circle cx="1763.7" cy="474.2" r="10.6"/><circle cx="1765.4" cy="474.2" r="10.6"/><circle cx="1767.1" cy="474.2" r="10.6"/><circle cx="1768.9" cy="474.3" r="10.6"/><circle cx="1770.6" cy="474.3" r="10.6"/><circle cx="1772.3" cy="474.3" r="10.6"/><circle cx="1774.1" cy="474.3" r="10.6"/><circle cx="1775.8" cy="474.3" r="10.6"/><circle cx="1777.6" cy="474.3" r="10.6"/><circle cx="1779.3" cy="474.4" r="10.6"/><circle cx="1781" cy="474.4" r="10.6"/><circle cx="1782.8" cy="474.4" r="10.6"/><circle cx="1784.5" cy="474.4" r="10.6"/></g><path d="M243.3 1025.4L246.8 1025.4L250.2 1025.4L253.7 1025.4L257.2 1025.4L260.7 1025.4L264.1 1025.4L267.6 1025.4L271.1 1025.4L274.6 1025.4L278.1 1025.4L281.5 1025.4L285 1025.4L288.5 1025.4L292 1025.4L295.5 1025.4L298.9 1025.4L302.4 1025.4L305.9 1025.4L309.4 1025.4L312.9 1025.3L316.3 1025.3L319.8 1025.3L323.3 1025.3L326.8 1025.2L330.3 1025.2L333.7 1025.2L337.2 1025.2L340.7 1025.1L344.2 1025.1L347.7 1025L351.1 1025L354.6 1025L358.1 1024.9L361.6 1024.9L365.1 1024.9L368.5 1024.8L372 1024.8L375.5 1024.8L379 1024.7L382.5 1024.7L385.9 1024.7L389.4 1024.6L392.9 1024.6L396.4 1024.5L399.9 1024.5L403.3 1024.4L406.8 1024.4L410.3 1024.3L413.8 1024.3L417.2 1024.2L420.7 1024.2L424.2 1024.1L427.7 1024L431.2 1024L434.6 1023.9L438.1 1023.8L441.6 1023.8L445.1 1023.7L448.6 1023.6L452 1023.5L455.5 1023.5L459 1023.4L462.5 1023.3L466 1023.2L469.4 1023.1L472.9 1023L476.4 1022.8L479.9 1022.7L483.4 1022.6L486.8 1022.5L490.3 1022.3L493.8 1022.2L497.3 1022L500.8 1021.9L504.2 1021.8L507.7 1021.6L511.2 1021.5L514.7 1021.3L518.2 1021.1L521.6 1020.9L525.1 1020.6L528.6 1020.2L532.1 1019.6L535.6 1018.8L539 1018L542.5 1017.4L546 1016.7L549.5 1015.4L553 1013.5L556.4 1010.4L559.9 1007L563.4 1004.4L566.9 1002.3L570.3 1001.3L573.8 999.9L577.3 997.2L580.8 993.9L584.3 990L587.7 986.8L591.2 983.7L594.7 980.1L598.2 976.3L601.7 971.7L605.1 966.2L608.6 959.3L612.1 950.7L615.6 940.8M683.4 180L685.2 174.2L688.7 166.5L692.1 164.5L695.6 166.1L699.1 172L702.6 180.4L706.1 191.4M744.3 401L747.8 412.9L751.3 423.8L754.8 434.3L758.2 443.8L761.7 451.3L765.2 457.7L768.7 463L772.2 467.2L775.6 470.2L779.1 472.4L782.6 474.1L786.1 475.1L789.6 475.7L793 475.9L796.5 475.6L800 475.2L803.5 474.9L807 474.6L810.4 474.5L813.9 474.8L817.4 475.4L820.9 476.3L824.4 477.7L827.8 479.5L831.3 481.6L834.8 484.4L838.3 487.6L841.8 490.9L845.2 493.9L848.7 497.6L852.2 501.8L855.7 506.2L859.2 510.8L862.6 515.5L866.1 520.1L869.6 524.7L873.1 529.2L876.5 533.6L880 537.9L883.5 542L887 545.7L890.5 549L893.9 551.6L897.4 553.4L900.9 554.7L904.4 554.9L907.9 554.5L911.3 553.9L914.8 552.7L918.3 550.9L921.8 548.7L925.3 546L928.7 542.9L932.2 539.4L935.7 535.8L939.2 532L942.7 528L946.1 524L949.6 519.8L953.1 515.6L956.6 511.2L960.1 506.7L963.5 502.1L967 497.6L970.5 493L974 488.5L977.5 484L980.9 479.5L984.4 474.9L987.9 470.4L991.4 465.8L994.9 461.3L998.3 456.9L1001.8 452.6L1005.3 448.4L1008.8 444.6L1012.2 441L1015.7 437.5L1019.2 434.2L1022.7 430.9L1026.2 427.8L1029.6 424.9L1033.1 422.2L1036.6 419.8L1040.1 417.6L1043.6 415.7L1047 413.9L1050.5 412.4L1054 411.2L1057.5 410.1L1061 409.2L1064.4 408.3L1067.9 407.4L1071.4 407L1074.9 407.5L1078.4 407.6L1081.8 406.7L1085.3 406.9L1088.8 407.6L1092.3 408.1L1095.8 408.6L1099.2 409.3L1102.7 410.1L1106.2 411.1L1109.7 412.1L1113.2 413.3L1116.6 414.5L1120.1 415.7L1123.6 416.9L1127.1 418.3L1130.6 419.6L1134 421.1L1137.5 422.6L1141 424L1144.5 425.5L1148 427.1L1151.4 428.7L1154.9 430.3L1158.4 431.9L1161.9 433.4L1165.3 434.9L1168.8 436.4L1172.3 437.8L1175.8 439.2L1179.3 440.5L1182.7 441.8L1186.2 443.1L1189.7 444.4L1193.2 445.6L1196.7 446.8L1200.1 448L1203.6 449.2L1207.1 450.4L1210.6 451.6L1214.1 452.8L1217.5 454.1L1221 455.3L1224.5 456.5L1228 457.7L1231.5 458.9L1234.9 460.1L1238.4 461.4L1241.9 462.6L1245.4 463.8L1248.9 465L1252.3 466.2L1255.8 467.4L1259.3 468.7L1262.8 469.9L1266.3 471.1L1269.7 472.3L1273.2 473.5L1276.7 474.8L1280.2 476L1283.7 477.2L1287.1 478.4L1290.6 479.6L1294.1 480.9L1297.6 482.1L1301.1 483.4L1304.5 484.6L1308 485.8L1311.5 487L1315 488.1L1318.4 489.1L1321.9 490.2L1325.4 491.1L1328.9 492L1332.4 492.8L1335.8 493.5L1339.3 494.1L1342.8 494.7L1346.3 495.2L1349.8 495.6L1353.2 495.9L1356.7 496L1360.2 496L1363.7 496L1367.2 496L1370.6 496L1374.1 496L1377.6 495.9L1381.1 495.8L1384.6 495.6L1388 495.2L1391.5 494.8L1395 494.3L1398.5 493.8L1402 493.3L1405.4 492.7L1408.9 492L1412.4 491.2L1415.9 490.5L1419.4 489.7L1422.8 488.9L1426.3 488L1429.8 487.2L1433.3 486.3L1436.8 485.4L1440.2 484.5L1443.7 483.6L1447.2 482.8L1450.7 482L1454.2 481.1L1457.6 480L1461.1 478.5L1464.6 477.2L1468.1 476.2L1471.5 475.4L1475 474.6L1478.5 473.7L1482 472.8L1485.5 471.8L1488.9 470.7L1492.4 469.7L1495.9 468.7L1499.4 467.8L1502.9 467L1506.3 466.3L1509.8 465.6L1513.3 464.9L1516.8 464.3L1520.3 463.7L1523.7 463.2L1527.2 462.6L1530.7 462.1L1534.2 461.6L1537.7 461.2L1541.1 460.8L1544.6 460.5L1548.1 460.3L1551.6 460L1555.1 459.8L1558.5 459.6L1562 459.5L1565.5 459.5L1569 459.5L1572.5 459.5L1575.9 459.5L1579.4 459.5L1582.9 459.5L1586.4 459.5L1589.9 459.5L1593.3 459.6L1596.8 459.8L1600.3 460L1603.8 460.3L1607.3 460.5L1610.7 460.7L1614.2 460.9L1617.7 461.2L1621.2 461.4L1624.6 461.7L1628.1 461.9L1631.6 462.2L1635.1 462.4L1638.6 462.7L1642 463L1645.5 463.3L1649 463.6L1652.5 463.9L1656 464.2L1659.4 464.6L1662.9 465L1666.4 465.3L1669.9 465.7L1673.4 466L1676.8 466.2L1680.3 466.5L1683.8 466.8L1687.3 467L1690.8 467.2L1694.2 467.4L1697.7 467.6L1701.2 467.8L1704.7 468L1708.2 468.2L1711.6 468.3L1715.1 468.5L1718.6 468.6L1722.1 468.7L1725.6 468.8L1729 468.9L1732.5 469L1736 469.1L1739.5 469.2L1743 469.3L1746.4 469.3L1749.9 469.4L1753.4 469.5L1756.9 469.5L1760.4 469.6L1763.8 469.6L1767.3 469.7L1770.8 469.7L1774.3 469.7L1777.7 469.8" stroke="#6e6ed0" stroke-width="2.3" stroke-dasharray="4 8" fill="none"/>
</g>
<g font-size="62">
<text transform="translate(223.5 1046.7) scale(1 1.035)" text-anchor="end">0.0</text>
<text transform="translate(223.5 768.4) scale(1 1.035)" text-anchor="end">0.5</text>
<text transform="translate(223.5 490) scale(1 1.035)" text-anchor="end">1.0</text>
<text transform="translate(223.5 211.7) scale(1 1.035)" text-anchor="end">1.5</text>
<text transform="translate(409.3 1224.3) scale(1 1.035)" text-anchor="middle">8.30</text>
<text transform="translate(788.5 1224.3) scale(1 1.035)" text-anchor="middle">8.35</text>
<text transform="translate(1167.7 1224.3) scale(1 1.035)" text-anchor="middle">8.40</text>
<text transform="translate(1546.9 1224.3) scale(1 1.035)" text-anchor="middle">8.45</text>
</g>
<text transform="translate(1016 1317.3) scale(1 1.035)" font-size="69" text-anchor="middle">Energy (keV)</text>
<text transform="translate(80.6 626) rotate(-90) scale(1 1.035)" font-size="69" text-anchor="middle">XANES Ni - K edge (a.u)</text>
<text class="pl" transform="translate(293.5 130.2) scale(0.945 1)" font-size="76.5">(a)</text>
<g stroke-linecap="round" stroke-width="8.6" fill="none"><path d="M1184.6 770.8H1345.7" stroke="#000080"/><path d="M1184.6 859.4H1345.7" stroke="#f00"/></g>
<circle cx="1265.2" cy="770.8" r="11" fill="url(#gb)"/><circle cx="1265.2" cy="859.4" r="11" fill="url(#gr)"/>
<text transform="translate(1364 795.1) scale(1 1.035)" font-size="71">1</text><text transform="translate(1364 883.4) scale(1 1.035)" font-size="71">2</text>
<path d="M521 1814.6v-17.5M521 1405.8v17.5M369.7 1814.6v-10M369.7 1405.8v10M672.4 1814.6v-10M672.4 1405.8v10M218.4 1673h17.5M823.7 1673h-17.5M218.4 1531h17.5M823.7 1531h-17.5M218.4 1744h10M823.7 1744h-10M218.4 1602h10M823.7 1602h-10M218.4 1460h10M823.7 1460h-10" stroke="#000" stroke-width="4.5" fill="none"/>
<g clip-path="url(#cb)">
<path d="M208.8 2231.8L210.2 2229M215.9 2217.7L217.6 2214.1M222.8 2202.6L225 2197.5M229.7 2185.8L232.6 2177.8M236.6 2165.9L240.1 2154.7M243.6 2142.6L247.5 2128.7M250.7 2116.5L254.8 2100.2M257.8 2088L262.1 2069.8M265 2057.6L269.4 2038M272.1 2025.7L276.7 2005.1M279.3 1992.8L283.9 1971.6M286.5 1959.3L291.1 1938M293.8 1925.7L298.3 1904.7M301 1892.4L305.5 1872.2M308.3 1859.9L312.6 1840.8M315.5 1828.5L319.8 1810.3M322.6 1798L327.1 1778.2M329.7 1765.8L334.4 1743M337 1730.7L341.6 1708.4M344.3 1696.1L348.7 1676.8M351.6 1664.5L355.8 1646.7M358.8 1634.4L363.1 1616.5M366 1604.3L370.2 1587.4M373.4 1575.3L377.3 1561.4M380.9 1549.4L384.2 1539.4M388.4 1527.5L391.1 1520.7M395.8 1509L398.1 1503.8M403.1 1492.3L405.2 1487.7M410.6 1476.3L412.2 1473M418.4 1462.1L418.7 1461.6M512 1502.8L512.6 1503.8M519.4 1514.5L519.7 1514.9M548.1 1555.7L548.6 1556.4M555.1 1567.2L556.1 1568.9M562.2 1579.9L563.3 1581.9M569.5 1592.9L570.5 1594.6M576.7 1605.6L577.7 1607.4M583.8 1618.4L585 1620.5M591.1 1631.5L592.2 1633.5M598.3 1644.5L599.3 1646.2M605.6 1657.1L606.4 1658.4M613.1 1669L613.4 1669.5" stroke="#f00" stroke-width="3.1" fill="none"/><g fill="#f00"><circle cx="205.9" cy="2237.4" r="4.5"/><circle cx="213.1" cy="2223.4" r="4.5"/><circle cx="220.3" cy="2208.4" r="4.5"/><circle cx="227.5" cy="2191.7" r="4.5"/><circle cx="234.8" cy="2171.9" r="4.5"/><circle cx="242" cy="2148.7" r="4.5"/><circle cx="249.2" cy="2122.6" r="4.5"/><circle cx="256.4" cy="2094.1" r="4.5"/><circle cx="263.6" cy="2063.7" r="4.5"/><circle cx="270.8" cy="2031.8" r="4.5"/><circle cx="278" cy="1998.9" r="4.5"/><circle cx="285.2" cy="1965.5" r="4.5"/><circle cx="292.4" cy="1931.8" r="4.5"/><circle cx="299.6" cy="1898.6" r="4.5"/><circle cx="306.8" cy="1866" r="4.5"/><circle cx="314.1" cy="1834.7" r="4.5"/><circle cx="321.3" cy="1804.1" r="4.5"/><circle cx="328.5" cy="1772" r="4.5"/><circle cx="335.7" cy="1736.9" r="4.5"/><circle cx="342.9" cy="1702.2" r="4.5"/><circle cx="350.1" cy="1670.6" r="4.5"/><circle cx="357.3" cy="1640.5" r="4.5"/><circle cx="364.5" cy="1610.4" r="4.5"/><circle cx="371.7" cy="1581.3" r="4.5"/><circle cx="378.9" cy="1555.4" r="4.5"/><circle cx="386.1" cy="1533.4" r="4.5"/><circle cx="393.4" cy="1514.8" r="4.5"/><circle cx="400.6" cy="1498" r="4.5"/><circle cx="407.8" cy="1482" r="4.5"/><circle cx="415" cy="1467.4" r="4.5"/><circle cx="422.2" cy="1456.3" r="4.5"/><circle cx="429.4" cy="1449.4" r="4.5"/><circle cx="436.6" cy="1445.2" r="4.5"/><circle cx="443.8" cy="1443" r="4.5"/><circle cx="451" cy="1443" r="4.5"/><circle cx="458.2" cy="1445.4" r="4.5"/><circle cx="465.4" cy="1449.8" r="4.5"/><circle cx="472.7" cy="1455.6" r="4.5"/><circle cx="479.9" cy="1462.4" r="4.5"/><circle cx="487.1" cy="1470" r="4.5"/><circle cx="494.3" cy="1477.9" r="4.5"/><circle cx="501.5" cy="1486.8" r="4.5"/><circle cx="508.7" cy="1497.5" r="4.5"/><circle cx="515.9" cy="1509.2" r="4.5"/><circle cx="523.1" cy="1520.2" r="4.5"/><circle cx="530.3" cy="1530.3" r="4.5"/><circle cx="537.5" cy="1540.2" r="4.5"/><circle cx="544.7" cy="1550.4" r="4.5"/><circle cx="552" cy="1561.7" r="4.5"/><circle cx="559.2" cy="1574.4" r="4.5"/><circle cx="566.4" cy="1587.4" r="4.5"/><circle cx="573.6" cy="1600.1" r="4.5"/><circle cx="580.8" cy="1612.9" r="4.5"/><circle cx="588" cy="1626" r="4.5"/><circle cx="595.2" cy="1639" r="4.5"/><circle cx="602.4" cy="1651.7" r="4.5"/><circle cx="609.6" cy="1663.8" r="4.5"/><circle cx="616.8" cy="1674.8" r="4.5"/><circle cx="624" cy="1685.2" r="4.5"/><circle cx="631.3" cy="1695.3" r="4.5"/><circle cx="638.5" cy="1704.6" r="4.5"/><circle cx="645.7" cy="1713.1" r="4.5"/><circle cx="652.9" cy="1721.6" r="4.5"/><circle cx="660.1" cy="1730.2" r="4.5"/><circle cx="667.3" cy="1738.3" r="4.5"/><circle cx="674.5" cy="1745.9" r="4.5"/><circle cx="681.7" cy="1753.7" r="4.5"/><circle cx="688.9" cy="1761" r="4.5"/><circle cx="696.1" cy="1766.9" r="4.5"/><circle cx="703.3" cy="1771.6" r="4.5"/><circle cx="710.6" cy="1775.5" r="4.5"/><circle cx="717.8" cy="1779.2" r="4.5"/><circle cx="725" cy="1783" r="4.5"/><circle cx="732.2" cy="1787.2" r="4.5"/><circle cx="739.4" cy="1791.5" r="4.5"/><circle cx="746.6" cy="1795.3" r="4.5"/><circle cx="753.8" cy="1798.8" r="4.5"/><circle cx="761" cy="1801.8" r="4.5"/><circle cx="768.2" cy="1804.8" r="4.5"/><circle cx="775.4" cy="1807.8" r="4.5"/><circle cx="782.6" cy="1810.7" r="4.5"/><circle cx="789.9" cy="1813.1" r="4.5"/><circle cx="797.1" cy="1814.8" r="4.5"/><circle cx="804.3" cy="1815.9" r="4.5"/><circle cx="811.5" cy="1816.8" r="4.5"/><circle cx="818.7" cy="1817.6" r="4.5"/><circle cx="825.9" cy="1818.3" r="4.5"/><circle cx="833.1" cy="1819.1" r="4.5"/></g>
<path d="M211.9 2210.8L213.6 2207.2M218.7 2195.7L220.7 2190.9M225.2 2179.1L228.1 2170.4M231.9 2158.4L235.3 2146.2M238.8 2134.1L242.3 2121.5M245.8 2109.4L249.2 2098.3M252.8 2086.2L256 2075.8M259.7 2063.7L263 2052.5M266.6 2040.4L270.1 2028.3M273.5 2016.2L277.1 2003.2M280.3 1991L284.1 1976.8M287.3 1964.6L291 1950.2M294.2 1938L298 1923.1M301.1 1910.9L305 1895.4M308.1 1883.2L311.9 1868.3M315.1 1856.1L318.8 1842.2M322.1 1830L325.6 1817.3M329 1805.2L332.6 1792.5M335.9 1780.3L339.6 1766.1M342.9 1754L346.5 1740.6M349.7 1728.4L353.6 1712.6M356.5 1700.3L360.7 1680.9M363.5 1668.7L367.5 1651.6M370.7 1639.4L374.3 1626.3M377.7 1614.2L381.1 1602M384.7 1589.9L388 1578.6M392.2 1566.7L394.4 1561.3M399.7 1549.8L400.8 1547.8M406.9 1536.8L407.5 1535.8M525 1551.4L525.4 1552.3M531.8 1563.1L532.5 1564.3M538.8 1575.2L539.3 1576M573.6 1627.5L574 1628.2M580.5 1639L581 1639.8" stroke="#000080" stroke-width="3.1" fill="none"/><g fill="#00009c"><circle cx="209.3" cy="2216.5" r="4.5"/><circle cx="216.2" cy="2201.5" r="4.5"/><circle cx="223.2" cy="2185.1" r="4.5"/><circle cx="230.1" cy="2164.5" r="4.5"/><circle cx="237.1" cy="2140.2" r="4.5"/><circle cx="244" cy="2115.4" r="4.5"/><circle cx="251" cy="2092.3" r="4.5"/><circle cx="257.9" cy="2069.8" r="4.5"/><circle cx="264.8" cy="2046.5" r="4.5"/><circle cx="271.8" cy="2022.2" r="4.5"/><circle cx="278.7" cy="1997.1" r="4.5"/><circle cx="285.7" cy="1970.7" r="4.5"/><circle cx="292.6" cy="1944.1" r="4.5"/><circle cx="299.6" cy="1917" r="4.5"/><circle cx="306.5" cy="1889.3" r="4.5"/><circle cx="313.4" cy="1862.2" r="4.5"/><circle cx="320.4" cy="1836.1" r="4.5"/><circle cx="327.3" cy="1811.2" r="4.5"/><circle cx="334.3" cy="1786.4" r="4.5"/><circle cx="341.2" cy="1760" r="4.5"/><circle cx="348.2" cy="1734.5" r="4.5"/><circle cx="355.1" cy="1706.4" r="4.5"/><circle cx="362" cy="1674.8" r="4.5"/><circle cx="369" cy="1645.4" r="4.5"/><circle cx="375.9" cy="1620.3" r="4.5"/><circle cx="382.9" cy="1596" r="4.5"/><circle cx="389.8" cy="1572.6" r="4.5"/><circle cx="396.8" cy="1555.4" r="4.5"/><circle cx="403.7" cy="1542.2" r="4.5"/><circle cx="410.6" cy="1530.3" r="4.5"/><circle cx="417.6" cy="1520.4" r="4.5"/><circle cx="424.5" cy="1514.5" r="4.5"/><circle cx="431.5" cy="1510.3" r="4.5"/><circle cx="438.4" cy="1506.6" r="4.5"/><circle cx="445.4" cy="1504.4" r="4.5"/><circle cx="452.3" cy="1504.5" r="4.5"/><circle cx="459.2" cy="1505.2" r="4.5"/><circle cx="466.2" cy="1506.2" r="4.5"/><circle cx="473.1" cy="1508.3" r="4.5"/><circle cx="480.1" cy="1512.2" r="4.5"/><circle cx="487" cy="1516.5" r="4.5"/><circle cx="494" cy="1520.8" r="4.5"/><circle cx="500.9" cy="1526.2" r="4.5"/><circle cx="507.8" cy="1532.1" r="4.5"/><circle cx="514.8" cy="1537.9" r="4.5"/><circle cx="521.7" cy="1546" r="4.5"/><circle cx="528.7" cy="1557.7" r="4.5"/><circle cx="535.6" cy="1569.8" r="4.5"/><circle cx="542.6" cy="1581.4" r="4.5"/><circle cx="549.5" cy="1591.3" r="4.5"/><circle cx="556.4" cy="1600.8" r="4.5"/><circle cx="563.4" cy="1611.1" r="4.5"/><circle cx="570.3" cy="1622.1" r="4.5"/><circle cx="577.3" cy="1633.6" r="4.5"/><circle cx="584.2" cy="1645.2" r="4.5"/><circle cx="591.2" cy="1656" r="4.5"/><circle cx="598.1" cy="1665.3" r="4.5"/><circle cx="605" cy="1674.3" r="4.5"/><circle cx="612" cy="1683" r="4.5"/><circle cx="618.9" cy="1691.1" r="4.5"/><circle cx="625.9" cy="1699.6" r="4.5"/><circle cx="632.8" cy="1709" r="4.5"/><circle cx="639.8" cy="1718.8" r="4.5"/><circle cx="646.7" cy="1728" r="4.5"/><circle cx="653.6" cy="1737.1" r="4.5"/><circle cx="660.6" cy="1745.9" r="4.5"/><circle cx="667.5" cy="1752.7" r="4.5"/><circle cx="674.5" cy="1758.1" r="4.5"/><circle cx="681.4" cy="1763.5" r="4.5"/><circle cx="688.4" cy="1769.1" r="4.5"/><circle cx="695.3" cy="1774.4" r="4.5"/><circle cx="702.2" cy="1779.9" r="4.5"/><circle cx="709.2" cy="1785.2" r="4.5"/><circle cx="716.1" cy="1789.6" r="4.5"/><circle cx="723.1" cy="1793.5" r="4.5"/><circle cx="730" cy="1797.2" r="4.5"/><circle cx="737" cy="1800.7" r="4.5"/><circle cx="743.9" cy="1803.8" r="4.5"/><circle cx="750.8" cy="1806.5" r="4.5"/><circle cx="757.8" cy="1809.2" r="4.5"/><circle cx="764.7" cy="1811.5" r="4.5"/><circle cx="771.7" cy="1813.5" r="4.5"/><circle cx="778.6" cy="1815.1" r="4.5"/><circle cx="785.6" cy="1816.5" r="4.5"/><circle cx="792.5" cy="1817.7" r="4.5"/><circle cx="799.4" cy="1818.7" r="4.5"/><circle cx="806.4" cy="1819.6" r="4.5"/><circle cx="813.3" cy="1820.4" r="4.5"/><circle cx="820.3" cy="1821" r="4.5"/><circle cx="827.2" cy="1821.5" r="4.5"/><circle cx="834.2" cy="1821.8" r="4.5"/></g>
</g>
<rect x="218.4" y="1405.8" width="605.3" height="408.8" stroke="#000" stroke-width="4.5" fill="none"/>
<g font-size="47.5">
<text transform="translate(201.8 1686.2) scale(1 1.035)" text-anchor="end">1.25</text>
<text transform="translate(201.8 1544.2) scale(1 1.035)" text-anchor="end">1.50</text>
<text transform="translate(218.6 1868.6) scale(1 1.035)" text-anchor="middle">8.33</text>
<text transform="translate(520.8 1868.6) scale(1 1.035)" text-anchor="middle">8.34</text>
<text transform="translate(823 1868.6) scale(1 1.035)" text-anchor="middle">8.35</text>
</g>
<text transform="translate(521.3 1950.1) scale(1 1.035)" font-size="56.5" text-anchor="middle">Energy (keV)</text>
<text transform="translate(89.6 1615.2) rotate(-90) scale(1 1.035)" font-size="57" text-anchor="middle">XANES (a.u)</text>
<text class="pl" transform="translate(244.2 1491.2) scale(1.015 1)" font-size="75.5">(b)</text>
<path d="M1129.7 1807.3v17.5M1129.7 1405.5v17.5M1382.7 1807.3v17.5M1382.7 1405.5v17.5M1635.7 1807.3v17.5M1635.7 1405.5v17.5M1256.2 1807.3v10M1256.2 1405.5v10M1509.2 1807.3v10M1509.2 1405.5v10M1762.2 1807.3v10M1762.2 1405.5v10M1027.8 1757.3h17.5M1838.2 1757.3h-17.5M1027.8 1656.8h17.5M1838.2 1656.8h-17.5M1027.8 1556.3h17.5M1838.2 1556.3h-17.5M1027.8 1455.8h17.5M1838.2 1455.8h-17.5M1027.8 1707h10M1838.2 1707h-10M1027.8 1606.5h10M1838.2 1606.5h-10M1027.8 1506h10M1838.2 1506h-10" stroke="#000" stroke-width="4.5" fill="none"/>
<g clip-path="url(#cc)">
<path d="M1439.8 1694.5L1440.3 1694.3M1451.7 1689L1452.5 1688.6M1463.7 1683L1464.6 1682.5M1475.7 1676.5L1476.8 1675.9M1487.4 1669.1L1489.2 1667.8M1499.1 1660.1L1501.5 1658.1M1511 1649.7L1513.8 1647.1M1522.8 1638.2L1526.1 1634.7M1534.6 1625.4L1538.4 1621.1M1546.5 1611.5L1550.6 1606.5M1558.3 1596.6L1562.9 1590.2M1569.9 1579.8L1575.4 1571M1581.8 1560.2L1587.6 1549.8M1593.8 1538.8L1599.7 1528M1605.7 1517L1611.9 1505.3M1617.6 1494L1624.1 1480.5M1629.5 1469.1L1636.3 1454.1M1641.3 1442.6L1648.6 1424.7M1653 1412.9L1661 1389.8M1664.8 1377.8L1673.3 1348.8M1676.7 1336.6L1685.6 1302.6M1688.6 1290.4L1697.7 1252.3M1700.6 1240L1709.9 1198.5M1712.6 1186.2L1722 1142.1M1724.6 1129.8L1734.1 1083.9M1736.6 1071.6L1746.2 1024.7M1748.7 1012.3L1758.2 965.2M1760.7 952.9L1770.3 906.3M1772.8 894L1782.3 848.8M1784.9 836.4L1794.3 793.3M1797 781L1806.3 739.2M1809 726.9L1818.4 682.4M1820.9 670L1830.6 620.2M1833 607.9L1842.6 558.9" stroke="#f00" stroke-width="3.1" fill="none"/><g fill="#f00"><circle cx="1024.2" cy="1750.3" r="4.5"/><circle cx="1036.3" cy="1749.7" r="4.5"/><circle cx="1048.3" cy="1748.8" r="4.5"/><circle cx="1060.4" cy="1747.8" r="4.5"/><circle cx="1072.5" cy="1746.8" r="4.5"/><circle cx="1084.5" cy="1745.7" r="4.5"/><circle cx="1096.6" cy="1744.1" r="4.5"/><circle cx="1108.6" cy="1742" r="4.5"/><circle cx="1120.7" cy="1739.4" r="4.5"/><circle cx="1132.7" cy="1736.6" r="4.5"/><circle cx="1144.8" cy="1733.8" r="4.5"/><circle cx="1156.8" cy="1731.3" r="4.5"/><circle cx="1168.9" cy="1729" r="4.5"/><circle cx="1180.9" cy="1727" r="4.5"/><circle cx="1193" cy="1725.9" r="4.5"/><circle cx="1205" cy="1725.8" r="4.5"/><circle cx="1217.1" cy="1726.4" r="4.5"/><circle cx="1229.1" cy="1727" r="4.5"/><circle cx="1241.2" cy="1727.1" r="4.5"/><circle cx="1253.2" cy="1726.6" r="4.5"/><circle cx="1265.3" cy="1725.5" r="4.5"/><circle cx="1277.4" cy="1724.1" r="4.5"/><circle cx="1289.4" cy="1722.4" r="4.5"/><circle cx="1301.5" cy="1720.7" r="4.5"/><circle cx="1313.5" cy="1719.2" r="4.5"/><circle cx="1325.6" cy="1717.9" r="4.5"/><circle cx="1337.6" cy="1716.7" r="4.5"/><circle cx="1349.7" cy="1715.5" r="4.5"/><circle cx="1361.7" cy="1714" r="4.5"/><circle cx="1373.8" cy="1712.6" r="4.5"/><circle cx="1385.8" cy="1710.9" r="4.5"/><circle cx="1397.9" cy="1708.5" r="4.5"/><circle cx="1409.9" cy="1705.1" r="4.5"/><circle cx="1422" cy="1701.3" r="4.5"/><circle cx="1434" cy="1696.9" r="4.5"/><circle cx="1446.1" cy="1691.8" r="4.5"/><circle cx="1458.1" cy="1685.9" r="4.5"/><circle cx="1470.2" cy="1679.7" r="4.5"/><circle cx="1482.3" cy="1672.7" r="4.5"/><circle cx="1494.3" cy="1664.2" r="4.5"/><circle cx="1506.4" cy="1654" r="4.5"/><circle cx="1518.4" cy="1642.7" r="4.5"/><circle cx="1530.5" cy="1630.2" r="4.5"/><circle cx="1542.5" cy="1616.3" r="4.5"/><circle cx="1554.6" cy="1601.7" r="4.5"/><circle cx="1566.6" cy="1585.1" r="4.5"/><circle cx="1578.7" cy="1565.7" r="4.5"/><circle cx="1590.7" cy="1544.3" r="4.5"/><circle cx="1602.8" cy="1522.5" r="4.5"/><circle cx="1614.8" cy="1499.7" r="4.5"/><circle cx="1626.9" cy="1474.9" r="4.5"/><circle cx="1638.9" cy="1448.4" r="4.5"/><circle cx="1651" cy="1418.9" r="4.5"/><circle cx="1663" cy="1383.8" r="4.5"/><circle cx="1675.1" cy="1342.7" r="4.5"/><circle cx="1687.2" cy="1296.5" r="4.5"/><circle cx="1699.2" cy="1246.1" r="4.5"/><circle cx="1711.3" cy="1192.4" r="4.5"/><circle cx="1723.3" cy="1136" r="4.5"/><circle cx="1735.4" cy="1077.7" r="4.5"/><circle cx="1747.4" cy="1018.5" r="4.5"/><circle cx="1759.5" cy="959" r="4.5"/><circle cx="1771.5" cy="900.1" r="4.5"/><circle cx="1783.6" cy="842.6" r="4.5"/><circle cx="1795.6" cy="787.1" r="4.5"/><circle cx="1807.7" cy="733.1" r="4.5"/><circle cx="1819.7" cy="676.2" r="4.5"/><circle cx="1831.8" cy="614.1" r="4.5"/><circle cx="1843.8" cy="552.7" r="4.5"/></g>
<path d="M1463.5 1641.5L1464.1 1641.1M1474.9 1634.6L1475.9 1634M1486.4 1627L1487.6 1626.1M1497.9 1618.8L1499.3 1617.8M1509.3 1610.1L1511.2 1608.5M1520.2 1599.8L1523.4 1596.3M1531.4 1586.6L1535.4 1581.2M1543.1 1571.2L1547 1566M1554.9 1556.2L1558.4 1552.2M1566.7 1542.7L1569.8 1539.3M1578.2 1529.9L1581.5 1526.2M1589.5 1516.6L1593.4 1511.6M1600.6 1501.3L1605.6 1493M1611.5 1481.9L1617.8 1468.5M1623 1457L1629.6 1441.9M1634.4 1430.2L1641.4 1413M1645.6 1401.1L1653.4 1376.6M1657 1364.5L1665.3 1333.7M1668.5 1321.6L1676.9 1290M1680.2 1277.8L1688.4 1248.9M1691.9 1236.8L1700 1209.2M1703.4 1197L1711.6 1167.9M1715 1155.8L1723.3 1125.1M1726.5 1112.9L1735 1080.6M1738.1 1068.4L1746.7 1034M1749.7 1021.7L1758.3 986.8M1761.3 974.6L1769.9 938.9M1772.8 926.7L1781.5 889.9M1784.5 877.7L1793.1 841.9M1796.1 829.7L1804.7 795.8M1807.8 783.6L1816.2 751.7M1819.4 739.5L1827.8 707.8M1830.9 695.6L1839.5 661.2" stroke="#000080" stroke-width="3.1" fill="none"/><g fill="#00009c"><circle cx="1016.9" cy="1743.4" r="4.5"/><circle cx="1028.5" cy="1742.9" r="4.5"/><circle cx="1040.1" cy="1742.3" r="4.5"/><circle cx="1051.7" cy="1741.6" r="4.5"/><circle cx="1063.3" cy="1740.6" r="4.5"/><circle cx="1074.9" cy="1739.3" r="4.5"/><circle cx="1086.5" cy="1737.8" r="4.5"/><circle cx="1098.1" cy="1735.9" r="4.5"/><circle cx="1109.8" cy="1733.1" r="4.5"/><circle cx="1121.4" cy="1730.2" r="4.5"/><circle cx="1133" cy="1727.1" r="4.5"/><circle cx="1144.6" cy="1724.1" r="4.5"/><circle cx="1156.2" cy="1721.7" r="4.5"/><circle cx="1167.8" cy="1719.4" r="4.5"/><circle cx="1179.4" cy="1717.4" r="4.5"/><circle cx="1191" cy="1715.7" r="4.5"/><circle cx="1202.6" cy="1714.6" r="4.5"/><circle cx="1214.2" cy="1713.8" r="4.5"/><circle cx="1225.8" cy="1712.8" r="4.5"/><circle cx="1237.4" cy="1711.2" r="4.5"/><circle cx="1249" cy="1708.9" r="4.5"/><circle cx="1260.7" cy="1706.4" r="4.5"/><circle cx="1272.3" cy="1703.7" r="4.5"/><circle cx="1283.9" cy="1700.4" r="4.5"/><circle cx="1295.5" cy="1696.8" r="4.5"/><circle cx="1307.1" cy="1693.4" r="4.5"/><circle cx="1318.7" cy="1690.4" r="4.5"/><circle cx="1330.3" cy="1687.7" r="4.5"/><circle cx="1341.9" cy="1684.9" r="4.5"/><circle cx="1353.5" cy="1682" r="4.5"/><circle cx="1365.1" cy="1678.8" r="4.5"/><circle cx="1376.7" cy="1675.5" r="4.5"/><circle cx="1388.3" cy="1672.2" r="4.5"/><circle cx="1399.9" cy="1668.7" r="4.5"/><circle cx="1411.6" cy="1664.8" r="4.5"/><circle cx="1423.2" cy="1660.4" r="4.5"/><circle cx="1434.8" cy="1655.8" r="4.5"/><circle cx="1446.4" cy="1650.4" r="4.5"/><circle cx="1458" cy="1644.6" r="4.5"/><circle cx="1469.6" cy="1638" r="4.5"/><circle cx="1481.2" cy="1630.6" r="4.5"/><circle cx="1492.8" cy="1622.5" r="4.5"/><circle cx="1504.4" cy="1614.1" r="4.5"/><circle cx="1516" cy="1604.5" r="4.5"/><circle cx="1527.6" cy="1591.6" r="4.5"/><circle cx="1539.2" cy="1576.2" r="4.5"/><circle cx="1550.8" cy="1561" r="4.5"/><circle cx="1562.5" cy="1547.4" r="4.5"/><circle cx="1574.1" cy="1534.7" r="4.5"/><circle cx="1585.7" cy="1521.5" r="4.5"/><circle cx="1597.3" cy="1506.7" r="4.5"/><circle cx="1608.9" cy="1487.7" r="4.5"/><circle cx="1620.5" cy="1462.8" r="4.5"/><circle cx="1632.1" cy="1436.1" r="4.5"/><circle cx="1643.7" cy="1407.1" r="4.5"/><circle cx="1655.3" cy="1370.6" r="4.5"/><circle cx="1666.9" cy="1327.7" r="4.5"/><circle cx="1678.5" cy="1283.9" r="4.5"/><circle cx="1690.1" cy="1242.9" r="4.5"/><circle cx="1701.7" cy="1203.1" r="4.5"/><circle cx="1713.4" cy="1161.8" r="4.5"/><circle cx="1725" cy="1119" r="4.5"/><circle cx="1736.6" cy="1074.5" r="4.5"/><circle cx="1748.2" cy="1027.9" r="4.5"/><circle cx="1759.8" cy="980.7" r="4.5"/><circle cx="1771.4" cy="932.8" r="4.5"/><circle cx="1783" cy="883.8" r="4.5"/><circle cx="1794.6" cy="835.8" r="4.5"/><circle cx="1806.2" cy="789.6" r="4.5"/><circle cx="1817.8" cy="745.6" r="4.5"/><circle cx="1829.4" cy="701.7" r="4.5"/><circle cx="1841" cy="655" r="4.5"/></g>
</g>
<rect x="1027.8" y="1405.5" width="810.4" height="401.8" stroke="#000" stroke-width="4.5" fill="none"/>
<g font-size="47.5">
<text transform="translate(1008.8 1770.6) scale(1 1.035)" text-anchor="end">0.0</text>
<text transform="translate(1008.8 1670.1) scale(1 1.035)" text-anchor="end">0.1</text>
<text transform="translate(1008.8 1569.6) scale(1 1.035)" text-anchor="end">0.2</text>
<text transform="translate(1008.8 1469.1) scale(1 1.035)" text-anchor="end">0.3</text>
<text transform="translate(1128.7 1870.9) scale(1 1.035)" text-anchor="middle">8.320</text>
<text transform="translate(1380.9 1870.9) scale(1 1.035)" text-anchor="middle">8.325</text>
<text transform="translate(1634 1870.9) scale(1 1.035)" text-anchor="middle">8.330</text>
</g>
<text transform="translate(1433.2 1948.3) scale(1 1.035)" font-size="56.5" text-anchor="middle">Energy (keV)</text>
<text transform="translate(920.5 1610.0) rotate(-90) scale(1 1.035)" font-size="57" text-anchor="middle">XANES (a.u)</text>
<text class="pl" transform="translate(1049 1491.2) scale(0.94 1)" font-size="76">(c)</text>
</svg></body></html>
